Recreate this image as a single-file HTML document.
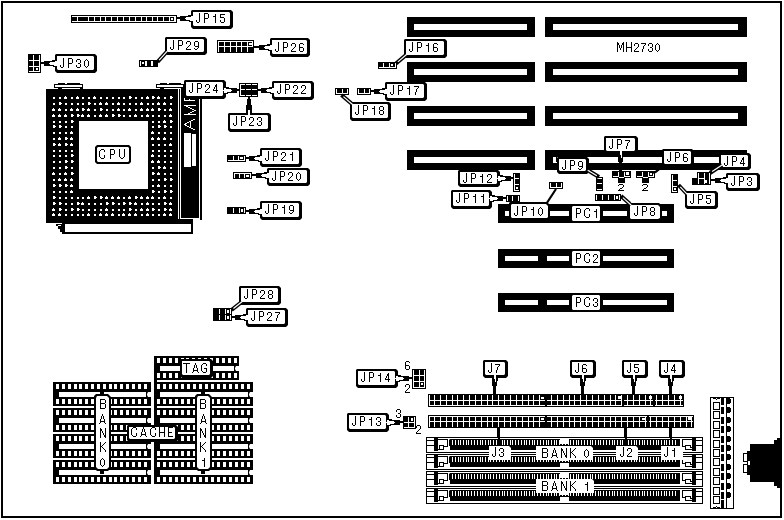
<!DOCTYPE html>
<html><head><meta charset="utf-8"><style>
html,body{margin:0;padding:0;background:#fff;width:784px;height:520px;overflow:hidden}
svg{display:block;will-change:transform}
text{font-family:"Liberation Sans",sans-serif}
</style></head><body>
<svg width="784" height="520" viewBox="0 0 784 520">
<defs><path id="g74" d="M3 0h1v1h-1zM3 1h1v1h-1zM3 2h1v1h-1zM3 3h1v1h-1zM3 4h1v1h-1zM3 5h1v1h-1zM3 6h1v1h-1zM0 7h1v1h-1zM3 7h1v1h-1zM0 8h1v1h-1zM3 8h1v1h-1zM1 9h2v1h-2z"/><path id="g80" d="M0 0h4v1h-4zM0 1h1v1h-1zM4 1h1v1h-1zM0 2h1v1h-1zM4 2h1v1h-1zM0 3h1v1h-1zM4 3h1v1h-1zM0 4h1v1h-1zM4 4h1v1h-1zM0 5h4v1h-4zM0 6h1v1h-1zM0 7h1v1h-1zM0 8h1v1h-1zM0 9h1v1h-1z"/><path id="g67" d="M2 0h3v1h-3zM1 1h1v1h-1zM5 1h1v1h-1zM0 2h1v1h-1zM5 2h1v1h-1zM0 3h1v1h-1zM0 4h1v1h-1zM0 5h1v1h-1zM0 6h1v1h-1zM5 6h1v1h-1zM0 7h1v1h-1zM5 7h1v1h-1zM1 8h1v1h-1zM5 8h1v1h-1zM2 9h3v1h-3z"/><path id="g85" d="M0 0h1v1h-1zM5 0h1v1h-1zM0 1h1v1h-1zM5 1h1v1h-1zM0 2h1v1h-1zM5 2h1v1h-1zM0 3h1v1h-1zM5 3h1v1h-1zM0 4h1v1h-1zM5 4h1v1h-1zM0 5h1v1h-1zM5 5h1v1h-1zM0 6h1v1h-1zM5 6h1v1h-1zM0 7h1v1h-1zM5 7h1v1h-1zM1 8h1v1h-1zM4 8h1v1h-1zM2 9h2v1h-2z"/><path id="g65" d="M3 0h1v1h-1zM3 1h1v1h-1zM2 2h1v1h-1zM4 2h1v1h-1zM2 3h1v1h-1zM4 3h1v1h-1zM2 4h1v1h-1zM4 4h1v1h-1zM1 5h1v1h-1zM5 5h1v1h-1zM1 6h1v1h-1zM5 6h1v1h-1zM1 7h5v1h-5zM1 8h1v1h-1zM5 8h1v1h-1zM0 9h1v1h-1zM6 9h1v1h-1z"/><path id="g77" d="M0 0h1v1h-1zM6 0h1v1h-1zM0 1h2v1h-2zM5 1h2v1h-2zM0 2h2v1h-2zM5 2h2v1h-2zM0 3h1v1h-1zM2 3h1v1h-1zM4 3h1v1h-1zM6 3h1v1h-1zM0 4h1v1h-1zM2 4h1v1h-1zM4 4h1v1h-1zM6 4h1v1h-1zM0 5h1v1h-1zM2 5h1v1h-1zM4 5h1v1h-1zM6 5h1v1h-1zM0 6h1v1h-1zM3 6h1v1h-1zM6 6h1v1h-1zM0 7h1v1h-1zM3 7h1v1h-1zM6 7h1v1h-1zM0 8h1v1h-1zM6 8h1v1h-1zM0 9h1v1h-1zM6 9h1v1h-1z"/><path id="g73" d="M0 0h1v1h-1zM0 1h1v1h-1zM0 2h1v1h-1zM0 3h1v1h-1zM0 4h1v1h-1zM0 5h1v1h-1zM0 6h1v1h-1zM0 7h1v1h-1zM0 8h1v1h-1zM0 9h1v1h-1z"/><path id="g72" d="M0 0h1v1h-1zM5 0h1v1h-1zM0 1h1v1h-1zM5 1h1v1h-1zM0 2h1v1h-1zM5 2h1v1h-1zM0 3h1v1h-1zM5 3h1v1h-1zM0 4h1v1h-1zM5 4h1v1h-1zM0 5h6v1h-6zM0 6h1v1h-1zM5 6h1v1h-1zM0 7h1v1h-1zM5 7h1v1h-1zM0 8h1v1h-1zM5 8h1v1h-1zM0 9h1v1h-1zM5 9h1v1h-1z"/><path id="g69" d="M0 0h5v1h-5zM0 1h1v1h-1zM0 2h1v1h-1zM0 3h1v1h-1zM0 4h1v1h-1zM0 5h4v1h-4zM0 6h1v1h-1zM0 7h1v1h-1zM0 8h1v1h-1zM0 9h5v1h-5z"/><path id="g66" d="M0 0h5v1h-5zM0 1h1v1h-1zM5 1h1v1h-1zM0 2h1v1h-1zM5 2h1v1h-1zM0 3h1v1h-1zM5 3h1v1h-1zM0 4h5v1h-5zM0 5h1v1h-1zM5 5h1v1h-1zM0 6h1v1h-1zM5 6h1v1h-1zM0 7h1v1h-1zM5 7h1v1h-1zM0 8h1v1h-1zM5 8h1v1h-1zM0 9h5v1h-5z"/><path id="g78" d="M0 0h1v1h-1zM5 0h1v1h-1zM0 1h2v1h-2zM5 1h1v1h-1zM0 2h2v1h-2zM5 2h1v1h-1zM0 3h1v1h-1zM2 3h1v1h-1zM5 3h1v1h-1zM0 4h1v1h-1zM2 4h1v1h-1zM5 4h1v1h-1zM0 5h1v1h-1zM3 5h1v1h-1zM5 5h1v1h-1zM0 6h1v1h-1zM3 6h1v1h-1zM5 6h1v1h-1zM0 7h1v1h-1zM4 7h2v1h-2zM0 8h1v1h-1zM4 8h2v1h-2zM0 9h1v1h-1zM5 9h1v1h-1z"/><path id="g75" d="M0 0h1v1h-1zM5 0h1v1h-1zM0 1h1v1h-1zM4 1h1v1h-1zM0 2h1v1h-1zM3 2h1v1h-1zM0 3h1v1h-1zM2 3h1v1h-1zM0 4h2v1h-2zM0 5h1v1h-1zM2 5h1v1h-1zM0 6h1v1h-1zM3 6h1v1h-1zM0 7h1v1h-1zM4 7h1v1h-1zM0 8h1v1h-1zM5 8h1v1h-1zM0 9h1v1h-1zM5 9h1v1h-1z"/><path id="g84" d="M0 0h7v1h-7zM3 1h1v1h-1zM3 2h1v1h-1zM3 3h1v1h-1zM3 4h1v1h-1zM3 5h1v1h-1zM3 6h1v1h-1zM3 7h1v1h-1zM3 8h1v1h-1zM3 9h1v1h-1z"/><path id="g71" d="M2 0h3v1h-3zM1 1h1v1h-1zM5 1h1v1h-1zM0 2h1v1h-1zM5 2h1v1h-1zM0 3h1v1h-1zM0 4h1v1h-1zM0 5h1v1h-1zM3 5h3v1h-3zM0 6h1v1h-1zM5 6h1v1h-1zM0 7h1v1h-1zM5 7h1v1h-1zM1 8h1v1h-1zM5 8h1v1h-1zM2 9h3v1h-3z"/><path id="g48" d="M2 1h1v1h-1zM1 2h1v1h-1zM3 2h1v1h-1zM0 3h1v1h-1zM4 3h1v1h-1zM0 4h1v1h-1zM4 4h1v1h-1zM0 5h1v1h-1zM4 5h1v1h-1zM0 6h1v1h-1zM4 6h1v1h-1zM0 7h1v1h-1zM4 7h1v1h-1zM1 8h1v1h-1zM3 8h1v1h-1zM2 9h1v1h-1z"/><path id="g49" d="M3 1h1v1h-1zM3 2h1v1h-1zM1 3h3v1h-3zM3 4h1v1h-1zM3 5h1v1h-1zM3 6h1v1h-1zM3 7h1v1h-1zM3 8h1v1h-1zM3 9h1v1h-1z"/><path id="g50" d="M1 1h3v1h-3zM0 2h1v1h-1zM4 2h1v1h-1zM0 3h1v1h-1zM4 3h1v1h-1zM4 4h1v1h-1zM3 5h1v1h-1zM2 6h1v1h-1zM1 7h1v1h-1zM0 8h1v1h-1zM0 9h5v1h-5z"/><path id="g51" d="M1 1h3v1h-3zM0 2h1v1h-1zM4 2h1v1h-1zM0 3h1v1h-1zM4 3h1v1h-1zM4 4h1v1h-1zM2 5h2v1h-2zM4 6h1v1h-1zM0 7h1v1h-1zM4 7h1v1h-1zM0 8h1v1h-1zM4 8h1v1h-1zM1 9h3v1h-3z"/><path id="g52" d="M3 1h1v1h-1zM2 2h2v1h-2zM2 3h2v1h-2zM1 4h1v1h-1zM3 4h1v1h-1zM1 5h1v1h-1zM3 5h1v1h-1zM0 6h1v1h-1zM3 6h1v1h-1zM0 7h5v1h-5zM3 8h1v1h-1zM3 9h1v1h-1z"/><path id="g53" d="M0 1h5v1h-5zM0 2h1v1h-1zM0 3h1v1h-1zM0 4h4v1h-4zM4 5h1v1h-1zM4 6h1v1h-1zM0 7h1v1h-1zM4 7h1v1h-1zM0 8h1v1h-1zM4 8h1v1h-1zM1 9h3v1h-3z"/><path id="g54" d="M1 1h3v1h-3zM0 2h1v1h-1zM4 2h1v1h-1zM0 3h1v1h-1zM0 4h1v1h-1zM0 5h4v1h-4zM0 6h1v1h-1zM4 6h1v1h-1zM0 7h1v1h-1zM4 7h1v1h-1zM0 8h1v1h-1zM4 8h1v1h-1zM1 9h3v1h-3z"/><path id="g55" d="M0 1h5v1h-5zM4 2h1v1h-1zM3 3h1v1h-1zM2 4h1v1h-1zM2 5h1v1h-1zM2 6h1v1h-1zM1 7h1v1h-1zM1 8h1v1h-1zM1 9h1v1h-1z"/><path id="g56" d="M1 1h3v1h-3zM0 2h1v1h-1zM4 2h1v1h-1zM0 3h1v1h-1zM4 3h1v1h-1zM0 4h1v1h-1zM4 4h1v1h-1zM1 5h3v1h-3zM0 6h1v1h-1zM4 6h1v1h-1zM0 7h1v1h-1zM4 7h1v1h-1zM0 8h1v1h-1zM4 8h1v1h-1zM1 9h3v1h-3z"/><path id="g178" d="M1 3h4v1h-4zM0 4h1v1h-1zM5 4h1v1h-1zM5 5h1v1h-1zM4 6h1v1h-1zM2 7h2v1h-2zM1 8h1v1h-1zM0 9h6v1h-6z"/><path id="g57" d="M1 1h3v1h-3zM0 2h1v1h-1zM4 2h1v1h-1zM0 3h1v1h-1zM4 3h1v1h-1zM0 4h1v1h-1zM4 4h1v1h-1zM0 5h1v1h-1zM4 5h1v1h-1zM1 6h4v1h-4zM4 7h1v1h-1zM0 8h1v1h-1zM3 8h1v1h-1zM1 9h2v1h-2z"/></defs>
<rect x="0" y="0" width="784" height="520" fill="#fff"/>
<rect x="1" y="1" width="781" height="2" fill="#000"/>
<rect x="1" y="516" width="781" height="2" fill="#000"/>
<rect x="1" y="1" width="2" height="517" fill="#000"/>
<rect x="780" y="1" width="2" height="517" fill="#000"/>
<rect x="71" y="15" width="106" height="8" fill="#000"/>
<rect x="72" y="16" width="104" height="1" fill="#fff"/>
<rect x="72" y="21" width="104" height="1" fill="#fff"/>
<rect x="174" y="16" width="2" height="6" fill="#fff"/>
<rect x="77" y="16" width="1" height="6" fill="#fff"/>
<rect x="88" y="16" width="1" height="6" fill="#fff"/>
<rect x="94" y="16" width="1" height="6" fill="#fff"/>
<rect x="100" y="16" width="1" height="6" fill="#fff"/>
<rect x="105" y="16" width="1" height="6" fill="#fff"/>
<rect x="111" y="16" width="1" height="6" fill="#fff"/>
<rect x="117" y="16" width="1" height="6" fill="#fff"/>
<rect x="123" y="16" width="1" height="6" fill="#fff"/>
<rect x="129" y="16" width="1" height="6" fill="#fff"/>
<rect x="135" y="16" width="1" height="6" fill="#fff"/>
<rect x="141" y="16" width="1" height="6" fill="#fff"/>
<rect x="146" y="16" width="1" height="6" fill="#fff"/>
<rect x="152" y="16" width="1" height="6" fill="#fff"/>
<rect x="157" y="16" width="1" height="6" fill="#fff"/>
<rect x="163" y="16" width="1" height="6" fill="#fff"/>
<rect x="169" y="16" width="1" height="6" fill="#fff"/>
<rect x="171" y="18" width="2" height="2" fill="#fff"/>
<polygon points="192,10 231,10 233,12 233,27 231,29 193,29 191,27 191,11" fill="#000"/>
<polygon points="193,12 229,12 230,13 230,25 229,26 194,26 193,25 193,13" fill="#fff"/>
<use href="#g74" x="196" y="13" fill="#000"/>
<use href="#g80" x="204" y="13" fill="#000"/>
<use href="#g49" x="212" y="13" fill="#000"/>
<use href="#g53" x="220" y="13" fill="#000"/>
<rect x="28" y="54" width="13" height="19" fill="#000"/>
<rect x="33" y="55" width="1" height="17" fill="#fff"/>
<rect x="39" y="55" width="1" height="17" fill="#fff"/>
<rect x="29" y="60" width="11" height="1" fill="#fff"/>
<rect x="29" y="66" width="11" height="1" fill="#fff"/>
<rect x="29" y="71" width="11" height="1" fill="#fff"/>
<rect x="36" y="68" width="2" height="2" fill="#fff"/>
<polygon points="56,54 95,54 97,56 97,71 95,73 57,73 55,71 55,55" fill="#000"/>
<polygon points="57,56 93,56 94,57 94,69 93,70 58,70 57,69 57,57" fill="#fff"/>
<use href="#g74" x="60" y="58" fill="#000"/>
<use href="#g80" x="68" y="58" fill="#000"/>
<use href="#g51" x="76" y="58" fill="#000"/>
<use href="#g48" x="84" y="58" fill="#000"/>
<rect x="139" y="60" width="19" height="7" fill="#000"/>
<rect x="140" y="61" width="1" height="5" fill="#fff"/>
<rect x="142" y="62" width="2" height="2" fill="#fff"/>
<rect x="145" y="61" width="2" height="5" fill="#fff"/>
<rect x="151" y="61" width="2" height="5" fill="#fff"/>
<polygon points="166,37 205,37 207,39 207,53 205,55 167,55 165,53 165,38" fill="#000"/>
<polygon points="167,39 203,39 204,40 204,51 203,52 168,52 167,51 167,40" fill="#fff"/>
<use href="#g74" x="170" y="40" fill="#000"/>
<use href="#g80" x="178" y="40" fill="#000"/>
<use href="#g50" x="186" y="40" fill="#000"/>
<use href="#g57" x="194" y="40" fill="#000"/>
<rect x="217" y="40" width="37" height="13" fill="#000"/>
<rect x="218" y="41" width="35" height="1" fill="#fff"/>
<rect x="218" y="46" width="35" height="1" fill="#fff"/>
<rect x="218" y="41" width="1" height="11" fill="#fff"/>
<rect x="224" y="41" width="1" height="11" fill="#fff"/>
<rect x="230" y="41" width="1" height="11" fill="#fff"/>
<rect x="236" y="41" width="1" height="11" fill="#fff"/>
<rect x="241" y="41" width="1" height="11" fill="#fff"/>
<rect x="247" y="41" width="1" height="11" fill="#fff"/>
<rect x="252" y="41" width="1" height="6" fill="#fff"/>
<rect x="249" y="43" width="3" height="2" fill="#fff"/>
<polygon points="271,38 308,38 310,40 310,55 308,57 272,57 270,55 270,39" fill="#000"/>
<polygon points="272,40 306,40 307,41 307,53 306,54 273,54 272,53 272,41" fill="#fff"/>
<use href="#g74" x="275" y="42" fill="#000"/>
<use href="#g80" x="283" y="42" fill="#000"/>
<use href="#g50" x="291" y="42" fill="#000"/>
<use href="#g54" x="299" y="42" fill="#000"/>
<rect x="58" y="83" width="22" height="1" fill="#000"/>
<rect x="54" y="84" width="29" height="4" fill="#000"/>
<rect x="55" y="85" width="27" height="2" fill="#fff"/>
<rect x="65" y="83" width="2" height="1" fill="#fff"/>
<rect x="58" y="88" width="4" height="1" fill="#000"/>
<rect x="80" y="88" width="3" height="1" fill="#000"/>
<rect x="160" y="83" width="21" height="1" fill="#000"/>
<rect x="156" y="84" width="28" height="4" fill="#000"/>
<rect x="157" y="85" width="26" height="2" fill="#fff"/>
<rect x="167" y="83" width="2" height="1" fill="#fff"/>
<rect x="160" y="88" width="4" height="1" fill="#000"/>
<rect x="181" y="88" width="3" height="1" fill="#000"/>
<rect x="46" y="89" width="132" height="134" fill="#000"/>
<rect x="179" y="89" width="1" height="130" fill="#000"/>
<rect x="181" y="89" width="18" height="129" fill="#000"/>
<rect x="200" y="99" width="2" height="121" fill="#000"/>
<rect x="184" y="133" width="7" height="34" fill="#fff"/>
<rect x="192" y="134" width="4" height="32" fill="#fff"/>
<rect x="46" y="219" width="147" height="4" fill="#000"/>
<rect x="62" y="223" width="131" height="11" fill="#000"/>
<rect x="65" y="224" width="126" height="8" fill="#fff"/>
<rect x="56" y="224" width="6" height="2" fill="#000"/>
<rect x="58" y="226" width="4" height="3" fill="#000"/>
<rect x="60" y="229" width="2" height="3" fill="#000"/>
<rect x="58" y="225" width="3" height="1" fill="#fff"/>
<rect x="53" y="97" width="2" height="2" fill="#fff"/>
<rect x="59" y="97" width="2" height="2" fill="#fff"/>
<rect x="64" y="97" width="3" height="2" fill="#fff"/>
<rect x="65" y="96" width="1" height="1" fill="#fff"/>
<rect x="71" y="97" width="2" height="2" fill="#fff"/>
<rect x="76" y="97" width="3" height="2" fill="#fff"/>
<rect x="77" y="96" width="1" height="1" fill="#fff"/>
<rect x="82" y="97" width="2" height="2" fill="#fff"/>
<rect x="88" y="97" width="2" height="2" fill="#fff"/>
<rect x="93" y="97" width="3" height="2" fill="#fff"/>
<rect x="94" y="96" width="1" height="1" fill="#fff"/>
<rect x="100" y="97" width="2" height="2" fill="#fff"/>
<rect x="106" y="97" width="2" height="2" fill="#fff"/>
<rect x="112" y="97" width="2" height="2" fill="#fff"/>
<rect x="118" y="97" width="2" height="2" fill="#fff"/>
<rect x="123" y="97" width="2" height="2" fill="#fff"/>
<rect x="129" y="96" width="2" height="3" fill="#fff"/>
<rect x="131" y="97" width="1" height="1" fill="#fff"/>
<rect x="135" y="97" width="2" height="2" fill="#fff"/>
<rect x="141" y="97" width="2" height="2" fill="#fff"/>
<rect x="146" y="97" width="3" height="2" fill="#fff"/>
<rect x="147" y="96" width="1" height="1" fill="#fff"/>
<rect x="152" y="96" width="2" height="3" fill="#fff"/>
<rect x="154" y="97" width="1" height="1" fill="#fff"/>
<rect x="157" y="97" width="3" height="2" fill="#fff"/>
<rect x="158" y="96" width="1" height="1" fill="#fff"/>
<rect x="164" y="97" width="2" height="2" fill="#fff"/>
<rect x="170" y="96" width="2" height="3" fill="#fff"/>
<rect x="172" y="97" width="1" height="1" fill="#fff"/>
<rect x="53" y="103" width="2" height="2" fill="#fff"/>
<rect x="59" y="102" width="2" height="3" fill="#fff"/>
<rect x="61" y="103" width="1" height="1" fill="#fff"/>
<rect x="65" y="103" width="2" height="2" fill="#fff"/>
<rect x="71" y="103" width="2" height="2" fill="#fff"/>
<rect x="77" y="103" width="2" height="2" fill="#fff"/>
<rect x="82" y="103" width="2" height="2" fill="#fff"/>
<rect x="88" y="102" width="2" height="3" fill="#fff"/>
<rect x="90" y="103" width="1" height="1" fill="#fff"/>
<rect x="94" y="103" width="2" height="2" fill="#fff"/>
<rect x="99" y="103" width="3" height="2" fill="#fff"/>
<rect x="100" y="102" width="1" height="1" fill="#fff"/>
<rect x="105" y="103" width="3" height="2" fill="#fff"/>
<rect x="106" y="102" width="1" height="1" fill="#fff"/>
<rect x="112" y="103" width="2" height="2" fill="#fff"/>
<rect x="117" y="103" width="3" height="2" fill="#fff"/>
<rect x="118" y="102" width="1" height="1" fill="#fff"/>
<rect x="123" y="103" width="2" height="2" fill="#fff"/>
<rect x="129" y="103" width="2" height="2" fill="#fff"/>
<rect x="135" y="103" width="2" height="2" fill="#fff"/>
<rect x="140" y="103" width="3" height="2" fill="#fff"/>
<rect x="141" y="102" width="1" height="1" fill="#fff"/>
<rect x="147" y="103" width="2" height="2" fill="#fff"/>
<rect x="152" y="103" width="2" height="2" fill="#fff"/>
<rect x="157" y="103" width="3" height="2" fill="#fff"/>
<rect x="158" y="102" width="1" height="1" fill="#fff"/>
<rect x="163" y="103" width="3" height="2" fill="#fff"/>
<rect x="164" y="102" width="1" height="1" fill="#fff"/>
<rect x="170" y="103" width="2" height="2" fill="#fff"/>
<rect x="52" y="109" width="3" height="2" fill="#fff"/>
<rect x="53" y="108" width="1" height="1" fill="#fff"/>
<rect x="58" y="109" width="3" height="2" fill="#fff"/>
<rect x="59" y="108" width="1" height="1" fill="#fff"/>
<rect x="65" y="109" width="2" height="2" fill="#fff"/>
<rect x="70" y="109" width="3" height="2" fill="#fff"/>
<rect x="71" y="108" width="1" height="1" fill="#fff"/>
<rect x="76" y="109" width="3" height="2" fill="#fff"/>
<rect x="77" y="108" width="1" height="1" fill="#fff"/>
<rect x="82" y="108" width="2" height="3" fill="#fff"/>
<rect x="84" y="109" width="1" height="1" fill="#fff"/>
<rect x="87" y="109" width="3" height="2" fill="#fff"/>
<rect x="88" y="108" width="1" height="1" fill="#fff"/>
<rect x="94" y="109" width="2" height="2" fill="#fff"/>
<rect x="100" y="108" width="2" height="3" fill="#fff"/>
<rect x="102" y="109" width="1" height="1" fill="#fff"/>
<rect x="106" y="109" width="2" height="2" fill="#fff"/>
<rect x="112" y="109" width="2" height="2" fill="#fff"/>
<rect x="117" y="109" width="3" height="2" fill="#fff"/>
<rect x="118" y="108" width="1" height="1" fill="#fff"/>
<rect x="123" y="109" width="2" height="2" fill="#fff"/>
<rect x="128" y="109" width="3" height="2" fill="#fff"/>
<rect x="129" y="108" width="1" height="1" fill="#fff"/>
<rect x="135" y="109" width="2" height="2" fill="#fff"/>
<rect x="140" y="109" width="3" height="2" fill="#fff"/>
<rect x="141" y="108" width="1" height="1" fill="#fff"/>
<rect x="146" y="109" width="3" height="2" fill="#fff"/>
<rect x="147" y="108" width="1" height="1" fill="#fff"/>
<rect x="151" y="109" width="3" height="2" fill="#fff"/>
<rect x="152" y="108" width="1" height="1" fill="#fff"/>
<rect x="158" y="108" width="2" height="3" fill="#fff"/>
<rect x="160" y="109" width="1" height="1" fill="#fff"/>
<rect x="164" y="109" width="2" height="2" fill="#fff"/>
<rect x="169" y="109" width="3" height="2" fill="#fff"/>
<rect x="170" y="108" width="1" height="1" fill="#fff"/>
<rect x="52" y="115" width="3" height="2" fill="#fff"/>
<rect x="53" y="114" width="1" height="1" fill="#fff"/>
<rect x="58" y="115" width="3" height="2" fill="#fff"/>
<rect x="59" y="114" width="1" height="1" fill="#fff"/>
<rect x="64" y="115" width="3" height="2" fill="#fff"/>
<rect x="65" y="114" width="1" height="1" fill="#fff"/>
<rect x="71" y="114" width="2" height="3" fill="#fff"/>
<rect x="73" y="115" width="1" height="1" fill="#fff"/>
<rect x="77" y="114" width="2" height="3" fill="#fff"/>
<rect x="79" y="115" width="1" height="1" fill="#fff"/>
<rect x="81" y="115" width="3" height="2" fill="#fff"/>
<rect x="82" y="114" width="1" height="1" fill="#fff"/>
<rect x="87" y="115" width="3" height="2" fill="#fff"/>
<rect x="88" y="114" width="1" height="1" fill="#fff"/>
<rect x="94" y="115" width="2" height="2" fill="#fff"/>
<rect x="99" y="115" width="3" height="2" fill="#fff"/>
<rect x="100" y="114" width="1" height="1" fill="#fff"/>
<rect x="105" y="115" width="3" height="2" fill="#fff"/>
<rect x="106" y="114" width="1" height="1" fill="#fff"/>
<rect x="112" y="114" width="2" height="3" fill="#fff"/>
<rect x="114" y="115" width="1" height="1" fill="#fff"/>
<rect x="118" y="114" width="2" height="3" fill="#fff"/>
<rect x="120" y="115" width="1" height="1" fill="#fff"/>
<rect x="123" y="115" width="2" height="2" fill="#fff"/>
<rect x="129" y="115" width="2" height="2" fill="#fff"/>
<rect x="134" y="115" width="3" height="2" fill="#fff"/>
<rect x="135" y="114" width="1" height="1" fill="#fff"/>
<rect x="141" y="115" width="2" height="2" fill="#fff"/>
<rect x="146" y="115" width="3" height="2" fill="#fff"/>
<rect x="147" y="114" width="1" height="1" fill="#fff"/>
<rect x="152" y="115" width="2" height="2" fill="#fff"/>
<rect x="158" y="115" width="2" height="2" fill="#fff"/>
<rect x="164" y="115" width="2" height="2" fill="#fff"/>
<rect x="169" y="115" width="3" height="2" fill="#fff"/>
<rect x="170" y="114" width="1" height="1" fill="#fff"/>
<rect x="53" y="121" width="2" height="2" fill="#fff"/>
<rect x="59" y="121" width="2" height="2" fill="#fff"/>
<rect x="65" y="121" width="2" height="2" fill="#fff"/>
<rect x="71" y="120" width="2" height="3" fill="#fff"/>
<rect x="73" y="121" width="1" height="1" fill="#fff"/>
<rect x="152" y="121" width="2" height="2" fill="#fff"/>
<rect x="158" y="121" width="2" height="2" fill="#fff"/>
<rect x="163" y="121" width="3" height="2" fill="#fff"/>
<rect x="164" y="120" width="1" height="1" fill="#fff"/>
<rect x="170" y="120" width="2" height="3" fill="#fff"/>
<rect x="172" y="121" width="1" height="1" fill="#fff"/>
<rect x="53" y="125" width="2" height="3" fill="#fff"/>
<rect x="55" y="126" width="1" height="1" fill="#fff"/>
<rect x="59" y="125" width="2" height="3" fill="#fff"/>
<rect x="61" y="126" width="1" height="1" fill="#fff"/>
<rect x="65" y="126" width="2" height="2" fill="#fff"/>
<rect x="71" y="126" width="2" height="2" fill="#fff"/>
<rect x="152" y="126" width="2" height="2" fill="#fff"/>
<rect x="158" y="125" width="2" height="3" fill="#fff"/>
<rect x="160" y="126" width="1" height="1" fill="#fff"/>
<rect x="164" y="125" width="2" height="3" fill="#fff"/>
<rect x="166" y="126" width="1" height="1" fill="#fff"/>
<rect x="170" y="126" width="2" height="2" fill="#fff"/>
<rect x="53" y="132" width="2" height="2" fill="#fff"/>
<rect x="59" y="132" width="2" height="2" fill="#fff"/>
<rect x="65" y="132" width="2" height="2" fill="#fff"/>
<rect x="70" y="132" width="3" height="2" fill="#fff"/>
<rect x="71" y="131" width="1" height="1" fill="#fff"/>
<rect x="151" y="132" width="3" height="2" fill="#fff"/>
<rect x="152" y="131" width="1" height="1" fill="#fff"/>
<rect x="158" y="132" width="2" height="2" fill="#fff"/>
<rect x="164" y="132" width="2" height="2" fill="#fff"/>
<rect x="170" y="132" width="2" height="2" fill="#fff"/>
<rect x="53" y="138" width="2" height="2" fill="#fff"/>
<rect x="58" y="138" width="3" height="2" fill="#fff"/>
<rect x="59" y="137" width="1" height="1" fill="#fff"/>
<rect x="65" y="137" width="2" height="3" fill="#fff"/>
<rect x="67" y="138" width="1" height="1" fill="#fff"/>
<rect x="70" y="138" width="3" height="2" fill="#fff"/>
<rect x="71" y="137" width="1" height="1" fill="#fff"/>
<rect x="151" y="138" width="3" height="2" fill="#fff"/>
<rect x="152" y="137" width="1" height="1" fill="#fff"/>
<rect x="157" y="138" width="3" height="2" fill="#fff"/>
<rect x="158" y="137" width="1" height="1" fill="#fff"/>
<rect x="163" y="138" width="3" height="2" fill="#fff"/>
<rect x="164" y="137" width="1" height="1" fill="#fff"/>
<rect x="170" y="138" width="2" height="2" fill="#fff"/>
<rect x="53" y="143" width="2" height="3" fill="#fff"/>
<rect x="55" y="144" width="1" height="1" fill="#fff"/>
<rect x="58" y="144" width="3" height="2" fill="#fff"/>
<rect x="59" y="143" width="1" height="1" fill="#fff"/>
<rect x="65" y="143" width="2" height="3" fill="#fff"/>
<rect x="67" y="144" width="1" height="1" fill="#fff"/>
<rect x="70" y="144" width="3" height="2" fill="#fff"/>
<rect x="71" y="143" width="1" height="1" fill="#fff"/>
<rect x="152" y="144" width="2" height="2" fill="#fff"/>
<rect x="158" y="144" width="2" height="2" fill="#fff"/>
<rect x="164" y="144" width="2" height="2" fill="#fff"/>
<rect x="169" y="144" width="3" height="2" fill="#fff"/>
<rect x="170" y="143" width="1" height="1" fill="#fff"/>
<rect x="53" y="150" width="2" height="2" fill="#fff"/>
<rect x="59" y="150" width="2" height="2" fill="#fff"/>
<rect x="65" y="150" width="2" height="2" fill="#fff"/>
<rect x="71" y="150" width="2" height="2" fill="#fff"/>
<rect x="152" y="150" width="2" height="2" fill="#fff"/>
<rect x="158" y="150" width="2" height="2" fill="#fff"/>
<rect x="164" y="150" width="2" height="2" fill="#fff"/>
<rect x="170" y="150" width="2" height="2" fill="#fff"/>
<rect x="53" y="155" width="2" height="2" fill="#fff"/>
<rect x="59" y="155" width="2" height="2" fill="#fff"/>
<rect x="65" y="155" width="2" height="2" fill="#fff"/>
<rect x="71" y="154" width="2" height="3" fill="#fff"/>
<rect x="73" y="155" width="1" height="1" fill="#fff"/>
<rect x="151" y="155" width="3" height="2" fill="#fff"/>
<rect x="152" y="154" width="1" height="1" fill="#fff"/>
<rect x="158" y="155" width="2" height="2" fill="#fff"/>
<rect x="164" y="155" width="2" height="2" fill="#fff"/>
<rect x="170" y="155" width="2" height="2" fill="#fff"/>
<rect x="53" y="161" width="2" height="2" fill="#fff"/>
<rect x="59" y="161" width="2" height="2" fill="#fff"/>
<rect x="65" y="160" width="2" height="3" fill="#fff"/>
<rect x="67" y="161" width="1" height="1" fill="#fff"/>
<rect x="71" y="160" width="2" height="3" fill="#fff"/>
<rect x="73" y="161" width="1" height="1" fill="#fff"/>
<rect x="151" y="161" width="3" height="2" fill="#fff"/>
<rect x="152" y="160" width="1" height="1" fill="#fff"/>
<rect x="157" y="161" width="3" height="2" fill="#fff"/>
<rect x="158" y="160" width="1" height="1" fill="#fff"/>
<rect x="164" y="161" width="2" height="2" fill="#fff"/>
<rect x="170" y="161" width="2" height="2" fill="#fff"/>
<rect x="53" y="167" width="2" height="2" fill="#fff"/>
<rect x="59" y="167" width="2" height="2" fill="#fff"/>
<rect x="65" y="166" width="2" height="3" fill="#fff"/>
<rect x="67" y="167" width="1" height="1" fill="#fff"/>
<rect x="71" y="167" width="2" height="2" fill="#fff"/>
<rect x="152" y="167" width="2" height="2" fill="#fff"/>
<rect x="158" y="166" width="2" height="3" fill="#fff"/>
<rect x="160" y="167" width="1" height="1" fill="#fff"/>
<rect x="163" y="167" width="3" height="2" fill="#fff"/>
<rect x="164" y="166" width="1" height="1" fill="#fff"/>
<rect x="170" y="167" width="2" height="2" fill="#fff"/>
<rect x="52" y="173" width="3" height="2" fill="#fff"/>
<rect x="53" y="172" width="1" height="1" fill="#fff"/>
<rect x="59" y="173" width="2" height="2" fill="#fff"/>
<rect x="64" y="173" width="3" height="2" fill="#fff"/>
<rect x="65" y="172" width="1" height="1" fill="#fff"/>
<rect x="71" y="172" width="2" height="3" fill="#fff"/>
<rect x="73" y="173" width="1" height="1" fill="#fff"/>
<rect x="152" y="172" width="2" height="3" fill="#fff"/>
<rect x="154" y="173" width="1" height="1" fill="#fff"/>
<rect x="157" y="173" width="3" height="2" fill="#fff"/>
<rect x="158" y="172" width="1" height="1" fill="#fff"/>
<rect x="164" y="173" width="2" height="2" fill="#fff"/>
<rect x="170" y="173" width="2" height="2" fill="#fff"/>
<rect x="53" y="179" width="2" height="2" fill="#fff"/>
<rect x="58" y="179" width="3" height="2" fill="#fff"/>
<rect x="59" y="178" width="1" height="1" fill="#fff"/>
<rect x="64" y="179" width="3" height="2" fill="#fff"/>
<rect x="65" y="178" width="1" height="1" fill="#fff"/>
<rect x="70" y="179" width="3" height="2" fill="#fff"/>
<rect x="71" y="178" width="1" height="1" fill="#fff"/>
<rect x="152" y="179" width="2" height="2" fill="#fff"/>
<rect x="158" y="179" width="2" height="2" fill="#fff"/>
<rect x="164" y="178" width="2" height="3" fill="#fff"/>
<rect x="166" y="179" width="1" height="1" fill="#fff"/>
<rect x="170" y="178" width="2" height="3" fill="#fff"/>
<rect x="172" y="179" width="1" height="1" fill="#fff"/>
<rect x="53" y="184" width="2" height="3" fill="#fff"/>
<rect x="55" y="185" width="1" height="1" fill="#fff"/>
<rect x="59" y="184" width="2" height="3" fill="#fff"/>
<rect x="61" y="185" width="1" height="1" fill="#fff"/>
<rect x="65" y="184" width="2" height="3" fill="#fff"/>
<rect x="67" y="185" width="1" height="1" fill="#fff"/>
<rect x="70" y="185" width="3" height="2" fill="#fff"/>
<rect x="71" y="184" width="1" height="1" fill="#fff"/>
<rect x="152" y="185" width="2" height="2" fill="#fff"/>
<rect x="157" y="185" width="3" height="2" fill="#fff"/>
<rect x="158" y="184" width="1" height="1" fill="#fff"/>
<rect x="164" y="185" width="2" height="2" fill="#fff"/>
<rect x="170" y="185" width="2" height="2" fill="#fff"/>
<rect x="53" y="191" width="2" height="2" fill="#fff"/>
<rect x="59" y="191" width="2" height="2" fill="#fff"/>
<rect x="65" y="191" width="2" height="2" fill="#fff"/>
<rect x="70" y="191" width="3" height="2" fill="#fff"/>
<rect x="71" y="190" width="1" height="1" fill="#fff"/>
<rect x="152" y="190" width="2" height="3" fill="#fff"/>
<rect x="154" y="191" width="1" height="1" fill="#fff"/>
<rect x="158" y="191" width="2" height="2" fill="#fff"/>
<rect x="164" y="190" width="2" height="3" fill="#fff"/>
<rect x="166" y="191" width="1" height="1" fill="#fff"/>
<rect x="170" y="190" width="2" height="3" fill="#fff"/>
<rect x="172" y="191" width="1" height="1" fill="#fff"/>
<rect x="53" y="196" width="2" height="3" fill="#fff"/>
<rect x="55" y="197" width="1" height="1" fill="#fff"/>
<rect x="59" y="197" width="2" height="2" fill="#fff"/>
<rect x="65" y="197" width="2" height="2" fill="#fff"/>
<rect x="71" y="197" width="2" height="2" fill="#fff"/>
<rect x="77" y="197" width="2" height="2" fill="#fff"/>
<rect x="82" y="197" width="2" height="2" fill="#fff"/>
<rect x="87" y="197" width="3" height="2" fill="#fff"/>
<rect x="88" y="196" width="1" height="1" fill="#fff"/>
<rect x="94" y="196" width="2" height="3" fill="#fff"/>
<rect x="96" y="197" width="1" height="1" fill="#fff"/>
<rect x="100" y="196" width="2" height="3" fill="#fff"/>
<rect x="102" y="197" width="1" height="1" fill="#fff"/>
<rect x="105" y="197" width="3" height="2" fill="#fff"/>
<rect x="106" y="196" width="1" height="1" fill="#fff"/>
<rect x="111" y="197" width="3" height="2" fill="#fff"/>
<rect x="112" y="196" width="1" height="1" fill="#fff"/>
<rect x="117" y="197" width="3" height="2" fill="#fff"/>
<rect x="118" y="196" width="1" height="1" fill="#fff"/>
<rect x="123" y="197" width="2" height="2" fill="#fff"/>
<rect x="128" y="197" width="3" height="2" fill="#fff"/>
<rect x="129" y="196" width="1" height="1" fill="#fff"/>
<rect x="135" y="196" width="2" height="3" fill="#fff"/>
<rect x="137" y="197" width="1" height="1" fill="#fff"/>
<rect x="140" y="197" width="3" height="2" fill="#fff"/>
<rect x="141" y="196" width="1" height="1" fill="#fff"/>
<rect x="146" y="197" width="3" height="2" fill="#fff"/>
<rect x="147" y="196" width="1" height="1" fill="#fff"/>
<rect x="151" y="197" width="3" height="2" fill="#fff"/>
<rect x="152" y="196" width="1" height="1" fill="#fff"/>
<rect x="158" y="197" width="2" height="2" fill="#fff"/>
<rect x="163" y="197" width="3" height="2" fill="#fff"/>
<rect x="164" y="196" width="1" height="1" fill="#fff"/>
<rect x="170" y="197" width="2" height="2" fill="#fff"/>
<rect x="53" y="202" width="2" height="3" fill="#fff"/>
<rect x="55" y="203" width="1" height="1" fill="#fff"/>
<rect x="59" y="202" width="2" height="3" fill="#fff"/>
<rect x="61" y="203" width="1" height="1" fill="#fff"/>
<rect x="65" y="203" width="2" height="2" fill="#fff"/>
<rect x="71" y="203" width="2" height="2" fill="#fff"/>
<rect x="77" y="202" width="2" height="3" fill="#fff"/>
<rect x="79" y="203" width="1" height="1" fill="#fff"/>
<rect x="81" y="203" width="3" height="2" fill="#fff"/>
<rect x="82" y="202" width="1" height="1" fill="#fff"/>
<rect x="88" y="203" width="2" height="2" fill="#fff"/>
<rect x="94" y="203" width="2" height="2" fill="#fff"/>
<rect x="100" y="203" width="2" height="2" fill="#fff"/>
<rect x="106" y="202" width="2" height="3" fill="#fff"/>
<rect x="108" y="203" width="1" height="1" fill="#fff"/>
<rect x="112" y="202" width="2" height="3" fill="#fff"/>
<rect x="114" y="203" width="1" height="1" fill="#fff"/>
<rect x="118" y="203" width="2" height="2" fill="#fff"/>
<rect x="123" y="202" width="2" height="3" fill="#fff"/>
<rect x="125" y="203" width="1" height="1" fill="#fff"/>
<rect x="129" y="202" width="2" height="3" fill="#fff"/>
<rect x="131" y="203" width="1" height="1" fill="#fff"/>
<rect x="134" y="203" width="3" height="2" fill="#fff"/>
<rect x="135" y="202" width="1" height="1" fill="#fff"/>
<rect x="141" y="203" width="2" height="2" fill="#fff"/>
<rect x="146" y="203" width="3" height="2" fill="#fff"/>
<rect x="147" y="202" width="1" height="1" fill="#fff"/>
<rect x="152" y="203" width="2" height="2" fill="#fff"/>
<rect x="158" y="203" width="2" height="2" fill="#fff"/>
<rect x="164" y="202" width="2" height="3" fill="#fff"/>
<rect x="166" y="203" width="1" height="1" fill="#fff"/>
<rect x="169" y="203" width="3" height="2" fill="#fff"/>
<rect x="170" y="202" width="1" height="1" fill="#fff"/>
<rect x="52" y="209" width="3" height="2" fill="#fff"/>
<rect x="53" y="208" width="1" height="1" fill="#fff"/>
<rect x="59" y="208" width="2" height="3" fill="#fff"/>
<rect x="61" y="209" width="1" height="1" fill="#fff"/>
<rect x="65" y="209" width="2" height="2" fill="#fff"/>
<rect x="71" y="208" width="2" height="3" fill="#fff"/>
<rect x="73" y="209" width="1" height="1" fill="#fff"/>
<rect x="77" y="208" width="2" height="3" fill="#fff"/>
<rect x="79" y="209" width="1" height="1" fill="#fff"/>
<rect x="82" y="209" width="2" height="2" fill="#fff"/>
<rect x="88" y="209" width="2" height="2" fill="#fff"/>
<rect x="94" y="209" width="2" height="2" fill="#fff"/>
<rect x="100" y="209" width="2" height="2" fill="#fff"/>
<rect x="105" y="209" width="3" height="2" fill="#fff"/>
<rect x="106" y="208" width="1" height="1" fill="#fff"/>
<rect x="112" y="209" width="2" height="2" fill="#fff"/>
<rect x="118" y="209" width="2" height="2" fill="#fff"/>
<rect x="123" y="209" width="2" height="2" fill="#fff"/>
<rect x="129" y="208" width="2" height="3" fill="#fff"/>
<rect x="131" y="209" width="1" height="1" fill="#fff"/>
<rect x="135" y="209" width="2" height="2" fill="#fff"/>
<rect x="140" y="209" width="3" height="2" fill="#fff"/>
<rect x="141" y="208" width="1" height="1" fill="#fff"/>
<rect x="146" y="209" width="3" height="2" fill="#fff"/>
<rect x="147" y="208" width="1" height="1" fill="#fff"/>
<rect x="152" y="208" width="2" height="3" fill="#fff"/>
<rect x="154" y="209" width="1" height="1" fill="#fff"/>
<rect x="158" y="209" width="2" height="2" fill="#fff"/>
<rect x="164" y="208" width="2" height="3" fill="#fff"/>
<rect x="166" y="209" width="1" height="1" fill="#fff"/>
<rect x="169" y="209" width="3" height="2" fill="#fff"/>
<rect x="170" y="208" width="1" height="1" fill="#fff"/>
<rect x="52" y="214" width="3" height="2" fill="#fff"/>
<rect x="53" y="213" width="1" height="1" fill="#fff"/>
<rect x="58" y="214" width="3" height="2" fill="#fff"/>
<rect x="59" y="213" width="1" height="1" fill="#fff"/>
<rect x="65" y="214" width="2" height="2" fill="#fff"/>
<rect x="71" y="214" width="2" height="2" fill="#fff"/>
<rect x="77" y="214" width="2" height="2" fill="#fff"/>
<rect x="82" y="214" width="2" height="2" fill="#fff"/>
<rect x="87" y="214" width="3" height="2" fill="#fff"/>
<rect x="88" y="213" width="1" height="1" fill="#fff"/>
<rect x="94" y="214" width="2" height="2" fill="#fff"/>
<rect x="99" y="214" width="3" height="2" fill="#fff"/>
<rect x="100" y="213" width="1" height="1" fill="#fff"/>
<rect x="105" y="214" width="3" height="2" fill="#fff"/>
<rect x="106" y="213" width="1" height="1" fill="#fff"/>
<rect x="111" y="214" width="3" height="2" fill="#fff"/>
<rect x="112" y="213" width="1" height="1" fill="#fff"/>
<rect x="118" y="214" width="2" height="2" fill="#fff"/>
<rect x="122" y="214" width="3" height="2" fill="#fff"/>
<rect x="123" y="213" width="1" height="1" fill="#fff"/>
<rect x="128" y="214" width="3" height="2" fill="#fff"/>
<rect x="129" y="213" width="1" height="1" fill="#fff"/>
<rect x="134" y="214" width="3" height="2" fill="#fff"/>
<rect x="135" y="213" width="1" height="1" fill="#fff"/>
<rect x="141" y="214" width="2" height="2" fill="#fff"/>
<rect x="146" y="214" width="3" height="2" fill="#fff"/>
<rect x="147" y="213" width="1" height="1" fill="#fff"/>
<rect x="152" y="214" width="2" height="2" fill="#fff"/>
<rect x="158" y="214" width="2" height="2" fill="#fff"/>
<rect x="163" y="214" width="3" height="2" fill="#fff"/>
<rect x="164" y="213" width="1" height="1" fill="#fff"/>
<rect x="169" y="214" width="3" height="2" fill="#fff"/>
<rect x="170" y="213" width="1" height="1" fill="#fff"/>
<rect x="79" y="121" width="69" height="68" fill="#fff"/>
<polygon points="97,145 129,145 131,147 131,162 129,164 97,164 95,162 95,147" fill="#000"/>
<polygon points="98,147 128,147 129,148 129,161 128,162 98,162 97,161 97,148" fill="#fff"/>
<use href="#g67" x="99" y="149" fill="#000"/>
<use href="#g80" x="110" y="149" fill="#000"/>
<use href="#g85" x="119" y="149" fill="#000"/>
<rect x="184" y="100" width="11" height="1" fill="#fff"/>
<rect x="184" y="98" width="1" height="2" fill="#fff"/>
<rect x="189" y="99" width="1" height="1" fill="#fff"/>
<rect x="184" y="105" width="12" height="1" fill="#fff"/>
<rect x="184" y="114" width="12" height="1" fill="#fff"/>
<rect x="186" y="106" width="2" height="1" fill="#fff"/>
<rect x="188" y="107" width="2" height="1" fill="#fff"/>
<rect x="190" y="108" width="2" height="1" fill="#fff"/>
<rect x="192" y="109" width="2" height="1" fill="#fff"/>
<rect x="194" y="110" width="2" height="1" fill="#fff"/>
<rect x="192" y="111" width="2" height="1" fill="#fff"/>
<rect x="190" y="112" width="2" height="1" fill="#fff"/>
<rect x="188" y="113" width="2" height="1" fill="#fff"/>
<rect x="184" y="124" width="2" height="1" fill="#fff"/>
<rect x="185" y="123" width="2" height="1" fill="#fff"/>
<rect x="187" y="122" width="2" height="1" fill="#fff"/>
<rect x="189" y="121" width="2" height="1" fill="#fff"/>
<rect x="191" y="120" width="2" height="1" fill="#fff"/>
<rect x="193" y="119" width="2" height="1" fill="#fff"/>
<rect x="185" y="125" width="2" height="1" fill="#fff"/>
<rect x="187" y="126" width="2" height="1" fill="#fff"/>
<rect x="189" y="127" width="2" height="1" fill="#fff"/>
<rect x="191" y="128" width="2" height="1" fill="#fff"/>
<rect x="193" y="129" width="2" height="1" fill="#fff"/>
<rect x="190" y="121" width="1" height="6" fill="#fff"/>
<rect x="239" y="83" width="19" height="14" fill="#000"/>
<rect x="240" y="84" width="1" height="12" fill="#fff"/>
<rect x="240" y="84" width="5" height="1" fill="#fff"/>
<rect x="246" y="84" width="5" height="1" fill="#fff"/>
<rect x="252" y="84" width="5" height="1" fill="#fff"/>
<rect x="240" y="89" width="5" height="1" fill="#fff"/>
<rect x="246" y="89" width="5" height="1" fill="#fff"/>
<rect x="252" y="89" width="5" height="1" fill="#fff"/>
<rect x="240" y="95" width="5" height="1" fill="#fff"/>
<rect x="246" y="95" width="5" height="1" fill="#fff"/>
<rect x="252" y="95" width="5" height="1" fill="#fff"/>
<polygon points="185,80 224,80 226,82 226,97 224,99 186,99 184,97 184,81" fill="#000"/>
<polygon points="186,82 222,82 223,83 223,95 222,96 187,96 186,95 186,83" fill="#fff"/>
<use href="#g74" x="189" y="83" fill="#000"/>
<use href="#g80" x="197" y="83" fill="#000"/>
<use href="#g50" x="205" y="83" fill="#000"/>
<use href="#g52" x="213" y="83" fill="#000"/>
<polygon points="273,81 312,81 314,83 314,98 312,100 274,100 272,98 272,82" fill="#000"/>
<polygon points="274,83 310,83 311,84 311,96 310,97 275,97 274,96 274,84" fill="#fff"/>
<use href="#g74" x="277" y="84" fill="#000"/>
<use href="#g80" x="285" y="84" fill="#000"/>
<use href="#g50" x="293" y="84" fill="#000"/>
<use href="#g50" x="301" y="84" fill="#000"/>
<polygon points="229,113 269,113 271,115 271,130 269,132 230,132 228,130 228,114" fill="#000"/>
<polygon points="230,115 267,115 268,116 268,128 267,129 231,129 230,128 230,116" fill="#fff"/>
<use href="#g74" x="233" y="116" fill="#000"/>
<use href="#g80" x="241" y="116" fill="#000"/>
<use href="#g50" x="249" y="116" fill="#000"/>
<use href="#g51" x="257" y="116" fill="#000"/>
<rect x="227" y="155" width="19" height="7" fill="#000"/>
<rect x="228" y="160" width="17" height="1" fill="#fff"/>
<rect x="233" y="156" width="1" height="5" fill="#fff"/>
<rect x="238" y="156" width="1" height="5" fill="#fff"/>
<rect x="244" y="156" width="1" height="5" fill="#fff"/>
<rect x="240" y="157" width="3" height="2" fill="#fff"/>
<polygon points="261,148 300,148 302,150 302,165 300,167 262,167 260,165 260,149" fill="#000"/>
<polygon points="262,150 298,150 299,151 299,163 298,164 263,164 262,163 262,151" fill="#fff"/>
<use href="#g74" x="265" y="151" fill="#000"/>
<use href="#g80" x="273" y="151" fill="#000"/>
<use href="#g50" x="281" y="151" fill="#000"/>
<use href="#g49" x="289" y="151" fill="#000"/>
<rect x="233" y="172" width="19" height="7" fill="#000"/>
<rect x="234" y="173" width="17" height="1" fill="#fff"/>
<rect x="234" y="173" width="1" height="5" fill="#fff"/>
<rect x="239" y="173" width="1" height="5" fill="#fff"/>
<rect x="244" y="173" width="1" height="5" fill="#fff"/>
<rect x="250" y="173" width="1" height="5" fill="#fff"/>
<rect x="246" y="175" width="3" height="2" fill="#fff"/>
<polygon points="268,168 308,168 310,170 310,184 308,186 269,186 267,184 267,169" fill="#000"/>
<polygon points="269,170 306,170 307,171 307,182 306,183 270,183 269,182 269,171" fill="#fff"/>
<use href="#g74" x="272" y="171" fill="#000"/>
<use href="#g80" x="280" y="171" fill="#000"/>
<use href="#g50" x="288" y="171" fill="#000"/>
<use href="#g48" x="296" y="171" fill="#000"/>
<rect x="227" y="207" width="19" height="7" fill="#000"/>
<rect x="233" y="208" width="1" height="5" fill="#fff"/>
<rect x="239" y="208" width="1" height="5" fill="#fff"/>
<rect x="244" y="208" width="1" height="5" fill="#fff"/>
<rect x="241" y="209" width="2" height="3" fill="#fff"/>
<polygon points="261,201 300,201 302,203 302,218 300,220 262,220 260,218 260,202" fill="#000"/>
<polygon points="262,203 298,203 299,204 299,216 298,217 263,217 262,216 262,204" fill="#fff"/>
<use href="#g74" x="265" y="204" fill="#000"/>
<use href="#g80" x="273" y="204" fill="#000"/>
<use href="#g49" x="281" y="204" fill="#000"/>
<use href="#g57" x="289" y="204" fill="#000"/>
<rect x="378" y="62" width="19" height="7" fill="#000"/>
<rect x="379" y="67" width="17" height="1" fill="#fff"/>
<rect x="383" y="63" width="1" height="5" fill="#fff"/>
<rect x="389" y="63" width="1" height="5" fill="#fff"/>
<rect x="395" y="63" width="1" height="5" fill="#fff"/>
<rect x="391" y="64" width="2" height="2" fill="#fff"/>
<polygon points="405,39 445,39 447,41 447,56 445,58 406,58 404,56 404,40" fill="#000"/>
<polygon points="406,41 443,41 444,42 444,54 443,55 407,55 406,54 406,42" fill="#fff"/>
<use href="#g74" x="409" y="42" fill="#000"/>
<use href="#g80" x="417" y="42" fill="#000"/>
<use href="#g49" x="425" y="42" fill="#000"/>
<use href="#g54" x="433" y="42" fill="#000"/>
<rect x="357" y="88" width="14" height="7" fill="#000"/>
<rect x="358" y="93" width="12" height="1" fill="#fff"/>
<rect x="358" y="89" width="1" height="5" fill="#fff"/>
<rect x="364" y="89" width="1" height="5" fill="#fff"/>
<rect x="369" y="89" width="1" height="5" fill="#fff"/>
<polygon points="386,82 425,82 427,84 427,99 425,101 387,101 385,99 385,83" fill="#000"/>
<polygon points="387,84 423,84 424,85 424,97 423,98 388,98 387,97 387,85" fill="#fff"/>
<use href="#g74" x="390" y="85" fill="#000"/>
<use href="#g80" x="398" y="85" fill="#000"/>
<use href="#g49" x="406" y="85" fill="#000"/>
<use href="#g55" x="414" y="85" fill="#000"/>
<rect x="335" y="88" width="14" height="7" fill="#000"/>
<rect x="336" y="93" width="12" height="1" fill="#fff"/>
<rect x="336" y="89" width="1" height="5" fill="#fff"/>
<rect x="342" y="89" width="1" height="5" fill="#fff"/>
<rect x="347" y="89" width="1" height="5" fill="#fff"/>
<polygon points="351,102 389,102 391,104 391,119 389,121 352,121 350,119 350,103" fill="#000"/>
<polygon points="352,104 387,104 388,105 388,117 387,118 353,118 352,117 352,105" fill="#fff"/>
<use href="#g74" x="355" y="105" fill="#000"/>
<use href="#g80" x="363" y="105" fill="#000"/>
<use href="#g49" x="371" y="105" fill="#000"/>
<use href="#g56" x="379" y="105" fill="#000"/>
<rect x="213" y="308" width="19" height="13" fill="#000"/>
<rect x="219" y="309" width="1" height="5" fill="#fff"/>
<rect x="219" y="315" width="1" height="5" fill="#fff"/>
<rect x="225" y="309" width="1" height="5" fill="#fff"/>
<rect x="225" y="315" width="1" height="5" fill="#fff"/>
<rect x="230" y="309" width="1" height="5" fill="#fff"/>
<rect x="230" y="315" width="1" height="5" fill="#fff"/>
<rect x="227" y="310" width="2" height="3" fill="#fff"/>
<rect x="227" y="316" width="2" height="3" fill="#fff"/>
<polygon points="240,286 279,286 281,288 281,303 279,305 241,305 239,303 239,287" fill="#000"/>
<polygon points="241,288 277,288 278,289 278,301 277,302 242,302 241,301 241,289" fill="#fff"/>
<use href="#g74" x="244" y="289" fill="#000"/>
<use href="#g80" x="252" y="289" fill="#000"/>
<use href="#g50" x="260" y="289" fill="#000"/>
<use href="#g56" x="268" y="289" fill="#000"/>
<polygon points="247,308 286,308 288,310 288,325 286,327 248,327 246,325 246,309" fill="#000"/>
<polygon points="248,310 284,310 285,311 285,323 284,324 249,324 248,323 248,311" fill="#fff"/>
<use href="#g74" x="251" y="311" fill="#000"/>
<use href="#g80" x="259" y="311" fill="#000"/>
<use href="#g50" x="267" y="311" fill="#000"/>
<use href="#g55" x="275" y="311" fill="#000"/>
<rect x="407" y="17" width="128" height="20" fill="#000"/>
<rect x="414" y="24" width="113" height="6" fill="#fff"/>
<rect x="545" y="17" width="202" height="20" fill="#000"/>
<rect x="553" y="24" width="185" height="6" fill="#fff"/>
<rect x="407" y="62" width="128" height="20" fill="#000"/>
<rect x="414" y="69" width="113" height="6" fill="#fff"/>
<rect x="545" y="62" width="202" height="20" fill="#000"/>
<rect x="553" y="69" width="185" height="6" fill="#fff"/>
<rect x="407" y="106" width="128" height="20" fill="#000"/>
<rect x="414" y="113" width="113" height="6" fill="#fff"/>
<rect x="545" y="106" width="202" height="20" fill="#000"/>
<rect x="553" y="113" width="185" height="6" fill="#fff"/>
<rect x="407" y="150" width="128" height="20" fill="#000"/>
<rect x="414" y="157" width="113" height="6" fill="#fff"/>
<rect x="545" y="150" width="202" height="20" fill="#000"/>
<rect x="553" y="157" width="185" height="6" fill="#fff"/>
<use href="#g77" x="617" y="42" fill="#000"/>
<use href="#g72" x="626" y="42" fill="#000"/>
<use href="#g50" x="634" y="42" fill="#000"/>
<use href="#g55" x="641" y="42" fill="#000"/>
<use href="#g51" x="648" y="42" fill="#000"/>
<use href="#g48" x="655" y="42" fill="#000"/>
<rect x="498" y="249" width="176" height="19" fill="#000"/>
<rect x="505" y="256" width="33" height="5" fill="#fff"/>
<rect x="547" y="256" width="22" height="5" fill="#fff"/>
<rect x="603" y="256" width="64" height="5" fill="#fff"/>
<polygon points="573,251 599,251 600,252 600,265 599,266 573,266 572,265 572,252" fill="#fff"/>
<use href="#g80" x="576" y="253" fill="#000"/>
<use href="#g67" x="584" y="253" fill="#000"/>
<use href="#g50" x="593" y="253" fill="#000"/>
<rect x="498" y="293" width="176" height="19" fill="#000"/>
<rect x="505" y="300" width="33" height="5" fill="#fff"/>
<rect x="547" y="300" width="22" height="5" fill="#fff"/>
<rect x="603" y="300" width="64" height="5" fill="#fff"/>
<polygon points="573,295 599,295 600,296 600,309 599,310 573,310 572,309 572,296" fill="#fff"/>
<use href="#g80" x="576" y="297" fill="#000"/>
<use href="#g67" x="584" y="297" fill="#000"/>
<use href="#g51" x="593" y="297" fill="#000"/>
<rect x="498" y="204" width="176" height="19" fill="#000"/>
<rect x="505" y="211" width="4" height="5" fill="#fff"/>
<rect x="550" y="211" width="19" height="5" fill="#fff"/>
<rect x="603" y="211" width="24" height="5" fill="#fff"/>
<rect x="662" y="211" width="5" height="5" fill="#fff"/>
<polygon points="573,206 599,206 600,207 600,220 599,221 573,221 572,220 572,207" fill="#fff"/>
<use href="#g80" x="576" y="208" fill="#000"/>
<use href="#g67" x="584" y="208" fill="#000"/>
<use href="#g49" x="593" y="208" fill="#000"/>
<polygon points="510,202 547,202 549,204 549,219 509,219 509,203" fill="#000"/>
<polygon points="512,204 546,204 548,206 548,217 547,218 512,218 511,217 511,205" fill="#fff"/>
<use href="#g74" x="514" y="206" fill="#000"/>
<use href="#g80" x="522" y="206" fill="#000"/>
<use href="#g49" x="530" y="206" fill="#000"/>
<use href="#g48" x="538" y="206" fill="#000"/>
<polygon points="629,203 659,203 661,205 661,220 628,220 628,204" fill="#000"/>
<polygon points="631,205 658,205 660,207 660,218 658,219 631,219 630,218 630,206" fill="#fff"/>
<use href="#g74" x="634" y="206" fill="#000"/>
<use href="#g80" x="642" y="206" fill="#000"/>
<use href="#g56" x="650" y="206" fill="#000"/>
<rect x="595" y="194" width="26" height="7" fill="#000"/>
<rect x="596" y="195" width="1" height="5" fill="#fff"/>
<rect x="602" y="195" width="1" height="5" fill="#fff"/>
<rect x="608" y="195" width="1" height="5" fill="#fff"/>
<rect x="614" y="195" width="1" height="5" fill="#fff"/>
<rect x="619" y="195" width="1" height="5" fill="#fff"/>
<rect x="616" y="196" width="2" height="3" fill="#fff"/>
<rect x="549" y="182" width="14" height="7" fill="#000"/>
<rect x="550" y="187" width="12" height="1" fill="#fff"/>
<rect x="550" y="183" width="1" height="5" fill="#fff"/>
<rect x="556" y="183" width="1" height="5" fill="#fff"/>
<rect x="561" y="183" width="1" height="5" fill="#fff"/>
<line x1="556" y1="189" x2="546.5" y2="203.5" stroke="#000" stroke-width="2.2"/>
<rect x="506" y="195" width="14" height="7" fill="#000"/>
<rect x="507" y="196" width="1" height="5" fill="#fff"/>
<rect x="512" y="196" width="1" height="5" fill="#fff"/>
<rect x="518" y="196" width="1" height="5" fill="#fff"/>
<polygon points="452,190 490,190 492,192 492,207 490,209 453,209 451,207 451,191" fill="#000"/>
<polygon points="453,192 488,192 489,193 489,205 488,206 454,206 453,205 453,193" fill="#fff"/>
<use href="#g74" x="456" y="193" fill="#000"/>
<use href="#g80" x="464" y="193" fill="#000"/>
<use href="#g49" x="472" y="193" fill="#000"/>
<use href="#g49" x="480" y="193" fill="#000"/>
<rect x="513" y="173" width="7" height="19" fill="#000"/>
<rect x="514" y="174" width="1" height="17" fill="#fff"/>
<rect x="514" y="178" width="5" height="1" fill="#fff"/>
<rect x="514" y="184" width="5" height="1" fill="#fff"/>
<rect x="514" y="190" width="5" height="1" fill="#fff"/>
<rect x="516" y="187" width="2" height="2" fill="#fff"/>
<polygon points="459,170 498,170 500,172 500,185 498,187 460,187 458,185 458,171" fill="#000"/>
<polygon points="460,172 496,172 497,173 497,183 496,184 461,184 460,183 460,173" fill="#fff"/>
<use href="#g74" x="463" y="173" fill="#000"/>
<use href="#g80" x="471" y="173" fill="#000"/>
<use href="#g49" x="479" y="173" fill="#000"/>
<use href="#g50" x="487" y="173" fill="#000"/>
<rect x="596" y="177" width="7" height="14" fill="#000"/>
<rect x="597" y="178" width="5" height="1" fill="#fff"/>
<rect x="597" y="183" width="5" height="1" fill="#fff"/>
<rect x="597" y="189" width="5" height="1" fill="#fff"/>
<polygon points="556,156 557,156 557,162 556,162" fill="#000"/>
<polygon points="558,157 587,157 589,159 589,172 587,174 559,174 557,172 557,158" fill="#000"/>
<polygon points="559,159 585,159 586,160 586,170 585,171 560,171 559,170 559,160" fill="#fff"/>
<use href="#g74" x="562" y="160" fill="#000"/>
<use href="#g80" x="570" y="160" fill="#000"/>
<use href="#g57" x="578" y="160" fill="#000"/>
<rect x="612" y="171" width="19" height="7" fill="#000"/>
<rect x="613" y="176" width="6" height="1" fill="#fff"/>
<rect x="624" y="176" width="6" height="1" fill="#fff"/>
<rect x="618" y="172" width="1" height="5" fill="#fff"/>
<rect x="624" y="172" width="1" height="5" fill="#fff"/>
<rect x="619" y="177" width="5" height="1" fill="#fff"/>
<rect x="626" y="172" width="3" height="3" fill="#fff"/>
<rect x="618" y="178" width="7" height="5" fill="#000"/>
<polygon points="605,136 636,136 638,138 638,152 636,154 606,154 604,152 604,137" fill="#000"/>
<polygon points="606,138 634,138 635,139 635,150 634,151 607,151 606,150 606,139" fill="#fff"/>
<use href="#g74" x="609" y="139" fill="#000"/>
<use href="#g80" x="617" y="139" fill="#000"/>
<use href="#g55" x="625" y="139" fill="#000"/>
<use href="#g178" x="618" y="181" fill="#000"/>
<rect x="636" y="171" width="19" height="7" fill="#000"/>
<rect x="637" y="176" width="6" height="1" fill="#fff"/>
<rect x="648" y="176" width="6" height="1" fill="#fff"/>
<rect x="642" y="172" width="1" height="5" fill="#fff"/>
<rect x="648" y="172" width="1" height="5" fill="#fff"/>
<rect x="643" y="177" width="5" height="1" fill="#fff"/>
<rect x="650" y="173" width="2" height="2" fill="#fff"/>
<rect x="653" y="172" width="1" height="5" fill="#fff"/>
<rect x="642" y="178" width="7" height="5" fill="#000"/>
<polygon points="652,171 655,171 665,163 665,166 656,173 652,174" fill="#000"/>
<polygon points="663,149 692,149 694,151 694,165 692,167 664,167 662,165 662,150" fill="#000"/>
<polygon points="664,151 690,151 691,152 691,163 690,164 665,164 664,163 664,152" fill="#fff"/>
<use href="#g74" x="667" y="152" fill="#000"/>
<use href="#g80" x="675" y="152" fill="#000"/>
<use href="#g54" x="683" y="152" fill="#000"/>
<use href="#g178" x="642" y="181" fill="#000"/>
<rect x="671" y="174" width="7" height="19" fill="#000"/>
<rect x="672" y="175" width="1" height="17" fill="#fff"/>
<rect x="672" y="180" width="5" height="1" fill="#fff"/>
<rect x="672" y="186" width="5" height="1" fill="#fff"/>
<rect x="672" y="191" width="5" height="1" fill="#fff"/>
<rect x="674" y="188" width="2" height="2" fill="#fff"/>
<polygon points="686,191 716,191 718,193 718,207 716,209 687,209 685,207 685,192" fill="#000"/>
<polygon points="687,193 714,193 715,194 715,205 714,206 688,206 687,205 687,194" fill="#fff"/>
<use href="#g74" x="690" y="194" fill="#000"/>
<use href="#g80" x="698" y="194" fill="#000"/>
<use href="#g53" x="706" y="194" fill="#000"/>
<rect x="697" y="172" width="14" height="13" fill="#000"/>
<rect x="692" y="178" width="5" height="7" fill="#000"/>
<rect x="698" y="173" width="1" height="11" fill="#fff"/>
<rect x="704" y="173" width="1" height="11" fill="#fff"/>
<rect x="709" y="173" width="1" height="11" fill="#fff"/>
<rect x="699" y="178" width="5" height="1" fill="#fff"/>
<rect x="705" y="180" width="2" height="3" fill="#fff"/>
<polygon points="720,153 749,153 751,155 751,168 749,170 721,170 719,168 719,154" fill="#000"/>
<polygon points="721,155 747,155 748,156 748,166 747,167 722,167 721,166 721,156" fill="#fff"/>
<use href="#g74" x="724" y="156" fill="#000"/>
<use href="#g80" x="732" y="156" fill="#000"/>
<use href="#g52" x="740" y="156" fill="#000"/>
<polygon points="727,173 758,173 760,175 760,189 758,191 728,191 726,189 726,174" fill="#000"/>
<polygon points="728,175 756,175 757,176 757,187 756,188 729,188 728,187 728,176" fill="#fff"/>
<use href="#g74" x="731" y="176" fill="#000"/>
<use href="#g80" x="739" y="176" fill="#000"/>
<use href="#g51" x="747" y="176" fill="#000"/>
<rect x="154" y="356" width="85" height="24" fill="#000"/>
<rect x="157" y="358" width="3" height="5" fill="#fff"/>
<rect x="157" y="373" width="3" height="5" fill="#fff"/>
<rect x="163" y="358" width="3" height="5" fill="#fff"/>
<rect x="163" y="373" width="3" height="5" fill="#fff"/>
<rect x="169" y="358" width="3" height="5" fill="#fff"/>
<rect x="169" y="373" width="3" height="5" fill="#fff"/>
<rect x="175" y="358" width="3" height="5" fill="#fff"/>
<rect x="175" y="373" width="3" height="5" fill="#fff"/>
<rect x="181" y="358" width="3" height="5" fill="#fff"/>
<rect x="181" y="373" width="3" height="5" fill="#fff"/>
<rect x="186" y="358" width="3" height="5" fill="#fff"/>
<rect x="186" y="373" width="3" height="5" fill="#fff"/>
<rect x="192" y="358" width="3" height="5" fill="#fff"/>
<rect x="192" y="373" width="3" height="5" fill="#fff"/>
<rect x="198" y="358" width="3" height="5" fill="#fff"/>
<rect x="198" y="373" width="3" height="5" fill="#fff"/>
<rect x="204" y="358" width="3" height="5" fill="#fff"/>
<rect x="204" y="373" width="3" height="5" fill="#fff"/>
<rect x="210" y="358" width="3" height="5" fill="#fff"/>
<rect x="210" y="373" width="3" height="5" fill="#fff"/>
<rect x="216" y="358" width="3" height="5" fill="#fff"/>
<rect x="216" y="373" width="3" height="5" fill="#fff"/>
<rect x="222" y="358" width="3" height="5" fill="#fff"/>
<rect x="222" y="373" width="3" height="5" fill="#fff"/>
<rect x="228" y="358" width="3" height="5" fill="#fff"/>
<rect x="228" y="373" width="3" height="5" fill="#fff"/>
<rect x="234" y="358" width="3" height="5" fill="#fff"/>
<rect x="234" y="373" width="3" height="5" fill="#fff"/>
<rect x="160" y="366" width="74" height="5" fill="#fff"/>
<polygon points="236,366 239,366 239,371 236,371 235,369 235,368" fill="#fff"/>
<rect x="53" y="382" width="98" height="24" fill="#000"/>
<rect x="56" y="384" width="3" height="5" fill="#fff"/>
<rect x="56" y="399" width="3" height="5" fill="#fff"/>
<rect x="62" y="384" width="3" height="5" fill="#fff"/>
<rect x="62" y="399" width="3" height="5" fill="#fff"/>
<rect x="68" y="384" width="3" height="5" fill="#fff"/>
<rect x="68" y="399" width="3" height="5" fill="#fff"/>
<rect x="74" y="384" width="3" height="5" fill="#fff"/>
<rect x="74" y="399" width="3" height="5" fill="#fff"/>
<rect x="79" y="384" width="3" height="5" fill="#fff"/>
<rect x="79" y="399" width="3" height="5" fill="#fff"/>
<rect x="85" y="384" width="3" height="5" fill="#fff"/>
<rect x="85" y="399" width="3" height="5" fill="#fff"/>
<rect x="91" y="384" width="3" height="5" fill="#fff"/>
<rect x="91" y="399" width="3" height="5" fill="#fff"/>
<rect x="97" y="384" width="3" height="5" fill="#fff"/>
<rect x="97" y="399" width="3" height="5" fill="#fff"/>
<rect x="103" y="384" width="3" height="5" fill="#fff"/>
<rect x="103" y="399" width="3" height="5" fill="#fff"/>
<rect x="109" y="384" width="3" height="5" fill="#fff"/>
<rect x="109" y="399" width="3" height="5" fill="#fff"/>
<rect x="114" y="384" width="3" height="5" fill="#fff"/>
<rect x="114" y="399" width="3" height="5" fill="#fff"/>
<rect x="120" y="384" width="3" height="5" fill="#fff"/>
<rect x="120" y="399" width="3" height="5" fill="#fff"/>
<rect x="126" y="384" width="3" height="5" fill="#fff"/>
<rect x="126" y="399" width="3" height="5" fill="#fff"/>
<rect x="132" y="384" width="3" height="5" fill="#fff"/>
<rect x="132" y="399" width="3" height="5" fill="#fff"/>
<rect x="138" y="384" width="3" height="5" fill="#fff"/>
<rect x="138" y="399" width="3" height="5" fill="#fff"/>
<rect x="144" y="384" width="3" height="5" fill="#fff"/>
<rect x="144" y="399" width="3" height="5" fill="#fff"/>
<rect x="59" y="392" width="87" height="5" fill="#fff"/>
<polygon points="148,392 151,392 151,397 148,397 147,395 147,394" fill="#fff"/>
<rect x="154" y="382" width="99" height="24" fill="#000"/>
<rect x="157" y="384" width="3" height="5" fill="#fff"/>
<rect x="157" y="399" width="3" height="5" fill="#fff"/>
<rect x="163" y="384" width="3" height="5" fill="#fff"/>
<rect x="163" y="399" width="3" height="5" fill="#fff"/>
<rect x="169" y="384" width="3" height="5" fill="#fff"/>
<rect x="169" y="399" width="3" height="5" fill="#fff"/>
<rect x="175" y="384" width="3" height="5" fill="#fff"/>
<rect x="175" y="399" width="3" height="5" fill="#fff"/>
<rect x="181" y="384" width="3" height="5" fill="#fff"/>
<rect x="181" y="399" width="3" height="5" fill="#fff"/>
<rect x="187" y="384" width="3" height="5" fill="#fff"/>
<rect x="187" y="399" width="3" height="5" fill="#fff"/>
<rect x="193" y="384" width="3" height="5" fill="#fff"/>
<rect x="193" y="399" width="3" height="5" fill="#fff"/>
<rect x="199" y="384" width="3" height="5" fill="#fff"/>
<rect x="199" y="399" width="3" height="5" fill="#fff"/>
<rect x="205" y="384" width="3" height="5" fill="#fff"/>
<rect x="205" y="399" width="3" height="5" fill="#fff"/>
<rect x="211" y="384" width="3" height="5" fill="#fff"/>
<rect x="211" y="399" width="3" height="5" fill="#fff"/>
<rect x="217" y="384" width="3" height="5" fill="#fff"/>
<rect x="217" y="399" width="3" height="5" fill="#fff"/>
<rect x="223" y="384" width="3" height="5" fill="#fff"/>
<rect x="223" y="399" width="3" height="5" fill="#fff"/>
<rect x="229" y="384" width="3" height="5" fill="#fff"/>
<rect x="229" y="399" width="3" height="5" fill="#fff"/>
<rect x="235" y="384" width="3" height="5" fill="#fff"/>
<rect x="235" y="399" width="3" height="5" fill="#fff"/>
<rect x="241" y="384" width="3" height="5" fill="#fff"/>
<rect x="241" y="399" width="3" height="5" fill="#fff"/>
<rect x="247" y="384" width="3" height="5" fill="#fff"/>
<rect x="247" y="399" width="3" height="5" fill="#fff"/>
<rect x="160" y="392" width="88" height="5" fill="#fff"/>
<polygon points="250,392 253,392 253,397 250,397 249,395 249,394" fill="#fff"/>
<rect x="53" y="408" width="98" height="24" fill="#000"/>
<rect x="56" y="410" width="3" height="5" fill="#fff"/>
<rect x="56" y="425" width="3" height="5" fill="#fff"/>
<rect x="62" y="410" width="3" height="5" fill="#fff"/>
<rect x="62" y="425" width="3" height="5" fill="#fff"/>
<rect x="68" y="410" width="3" height="5" fill="#fff"/>
<rect x="68" y="425" width="3" height="5" fill="#fff"/>
<rect x="74" y="410" width="3" height="5" fill="#fff"/>
<rect x="74" y="425" width="3" height="5" fill="#fff"/>
<rect x="79" y="410" width="3" height="5" fill="#fff"/>
<rect x="79" y="425" width="3" height="5" fill="#fff"/>
<rect x="85" y="410" width="3" height="5" fill="#fff"/>
<rect x="85" y="425" width="3" height="5" fill="#fff"/>
<rect x="91" y="410" width="3" height="5" fill="#fff"/>
<rect x="91" y="425" width="3" height="5" fill="#fff"/>
<rect x="97" y="410" width="3" height="5" fill="#fff"/>
<rect x="97" y="425" width="3" height="5" fill="#fff"/>
<rect x="103" y="410" width="3" height="5" fill="#fff"/>
<rect x="103" y="425" width="3" height="5" fill="#fff"/>
<rect x="109" y="410" width="3" height="5" fill="#fff"/>
<rect x="109" y="425" width="3" height="5" fill="#fff"/>
<rect x="114" y="410" width="3" height="5" fill="#fff"/>
<rect x="114" y="425" width="3" height="5" fill="#fff"/>
<rect x="120" y="410" width="3" height="5" fill="#fff"/>
<rect x="120" y="425" width="3" height="5" fill="#fff"/>
<rect x="126" y="410" width="3" height="5" fill="#fff"/>
<rect x="126" y="425" width="3" height="5" fill="#fff"/>
<rect x="132" y="410" width="3" height="5" fill="#fff"/>
<rect x="132" y="425" width="3" height="5" fill="#fff"/>
<rect x="138" y="410" width="3" height="5" fill="#fff"/>
<rect x="138" y="425" width="3" height="5" fill="#fff"/>
<rect x="144" y="410" width="3" height="5" fill="#fff"/>
<rect x="144" y="425" width="3" height="5" fill="#fff"/>
<rect x="59" y="418" width="87" height="5" fill="#fff"/>
<polygon points="148,418 151,418 151,423 148,423 147,421 147,420" fill="#fff"/>
<rect x="154" y="408" width="99" height="24" fill="#000"/>
<rect x="157" y="410" width="3" height="5" fill="#fff"/>
<rect x="157" y="425" width="3" height="5" fill="#fff"/>
<rect x="163" y="410" width="3" height="5" fill="#fff"/>
<rect x="163" y="425" width="3" height="5" fill="#fff"/>
<rect x="169" y="410" width="3" height="5" fill="#fff"/>
<rect x="169" y="425" width="3" height="5" fill="#fff"/>
<rect x="175" y="410" width="3" height="5" fill="#fff"/>
<rect x="175" y="425" width="3" height="5" fill="#fff"/>
<rect x="181" y="410" width="3" height="5" fill="#fff"/>
<rect x="181" y="425" width="3" height="5" fill="#fff"/>
<rect x="187" y="410" width="3" height="5" fill="#fff"/>
<rect x="187" y="425" width="3" height="5" fill="#fff"/>
<rect x="193" y="410" width="3" height="5" fill="#fff"/>
<rect x="193" y="425" width="3" height="5" fill="#fff"/>
<rect x="199" y="410" width="3" height="5" fill="#fff"/>
<rect x="199" y="425" width="3" height="5" fill="#fff"/>
<rect x="205" y="410" width="3" height="5" fill="#fff"/>
<rect x="205" y="425" width="3" height="5" fill="#fff"/>
<rect x="211" y="410" width="3" height="5" fill="#fff"/>
<rect x="211" y="425" width="3" height="5" fill="#fff"/>
<rect x="217" y="410" width="3" height="5" fill="#fff"/>
<rect x="217" y="425" width="3" height="5" fill="#fff"/>
<rect x="223" y="410" width="3" height="5" fill="#fff"/>
<rect x="223" y="425" width="3" height="5" fill="#fff"/>
<rect x="229" y="410" width="3" height="5" fill="#fff"/>
<rect x="229" y="425" width="3" height="5" fill="#fff"/>
<rect x="235" y="410" width="3" height="5" fill="#fff"/>
<rect x="235" y="425" width="3" height="5" fill="#fff"/>
<rect x="241" y="410" width="3" height="5" fill="#fff"/>
<rect x="241" y="425" width="3" height="5" fill="#fff"/>
<rect x="247" y="410" width="3" height="5" fill="#fff"/>
<rect x="247" y="425" width="3" height="5" fill="#fff"/>
<rect x="160" y="418" width="88" height="5" fill="#fff"/>
<polygon points="250,418 253,418 253,423 250,423 249,421 249,420" fill="#fff"/>
<rect x="53" y="434" width="98" height="24" fill="#000"/>
<rect x="56" y="436" width="3" height="5" fill="#fff"/>
<rect x="56" y="451" width="3" height="5" fill="#fff"/>
<rect x="62" y="436" width="3" height="5" fill="#fff"/>
<rect x="62" y="451" width="3" height="5" fill="#fff"/>
<rect x="68" y="436" width="3" height="5" fill="#fff"/>
<rect x="68" y="451" width="3" height="5" fill="#fff"/>
<rect x="74" y="436" width="3" height="5" fill="#fff"/>
<rect x="74" y="451" width="3" height="5" fill="#fff"/>
<rect x="79" y="436" width="3" height="5" fill="#fff"/>
<rect x="79" y="451" width="3" height="5" fill="#fff"/>
<rect x="85" y="436" width="3" height="5" fill="#fff"/>
<rect x="85" y="451" width="3" height="5" fill="#fff"/>
<rect x="91" y="436" width="3" height="5" fill="#fff"/>
<rect x="91" y="451" width="3" height="5" fill="#fff"/>
<rect x="97" y="436" width="3" height="5" fill="#fff"/>
<rect x="97" y="451" width="3" height="5" fill="#fff"/>
<rect x="103" y="436" width="3" height="5" fill="#fff"/>
<rect x="103" y="451" width="3" height="5" fill="#fff"/>
<rect x="109" y="436" width="3" height="5" fill="#fff"/>
<rect x="109" y="451" width="3" height="5" fill="#fff"/>
<rect x="114" y="436" width="3" height="5" fill="#fff"/>
<rect x="114" y="451" width="3" height="5" fill="#fff"/>
<rect x="120" y="436" width="3" height="5" fill="#fff"/>
<rect x="120" y="451" width="3" height="5" fill="#fff"/>
<rect x="126" y="436" width="3" height="5" fill="#fff"/>
<rect x="126" y="451" width="3" height="5" fill="#fff"/>
<rect x="132" y="436" width="3" height="5" fill="#fff"/>
<rect x="132" y="451" width="3" height="5" fill="#fff"/>
<rect x="138" y="436" width="3" height="5" fill="#fff"/>
<rect x="138" y="451" width="3" height="5" fill="#fff"/>
<rect x="144" y="436" width="3" height="5" fill="#fff"/>
<rect x="144" y="451" width="3" height="5" fill="#fff"/>
<rect x="59" y="444" width="87" height="5" fill="#fff"/>
<polygon points="148,444 151,444 151,449 148,449 147,447 147,446" fill="#fff"/>
<rect x="154" y="434" width="99" height="24" fill="#000"/>
<rect x="157" y="436" width="3" height="5" fill="#fff"/>
<rect x="157" y="451" width="3" height="5" fill="#fff"/>
<rect x="163" y="436" width="3" height="5" fill="#fff"/>
<rect x="163" y="451" width="3" height="5" fill="#fff"/>
<rect x="169" y="436" width="3" height="5" fill="#fff"/>
<rect x="169" y="451" width="3" height="5" fill="#fff"/>
<rect x="175" y="436" width="3" height="5" fill="#fff"/>
<rect x="175" y="451" width="3" height="5" fill="#fff"/>
<rect x="181" y="436" width="3" height="5" fill="#fff"/>
<rect x="181" y="451" width="3" height="5" fill="#fff"/>
<rect x="187" y="436" width="3" height="5" fill="#fff"/>
<rect x="187" y="451" width="3" height="5" fill="#fff"/>
<rect x="193" y="436" width="3" height="5" fill="#fff"/>
<rect x="193" y="451" width="3" height="5" fill="#fff"/>
<rect x="199" y="436" width="3" height="5" fill="#fff"/>
<rect x="199" y="451" width="3" height="5" fill="#fff"/>
<rect x="205" y="436" width="3" height="5" fill="#fff"/>
<rect x="205" y="451" width="3" height="5" fill="#fff"/>
<rect x="211" y="436" width="3" height="5" fill="#fff"/>
<rect x="211" y="451" width="3" height="5" fill="#fff"/>
<rect x="217" y="436" width="3" height="5" fill="#fff"/>
<rect x="217" y="451" width="3" height="5" fill="#fff"/>
<rect x="223" y="436" width="3" height="5" fill="#fff"/>
<rect x="223" y="451" width="3" height="5" fill="#fff"/>
<rect x="229" y="436" width="3" height="5" fill="#fff"/>
<rect x="229" y="451" width="3" height="5" fill="#fff"/>
<rect x="235" y="436" width="3" height="5" fill="#fff"/>
<rect x="235" y="451" width="3" height="5" fill="#fff"/>
<rect x="241" y="436" width="3" height="5" fill="#fff"/>
<rect x="241" y="451" width="3" height="5" fill="#fff"/>
<rect x="247" y="436" width="3" height="5" fill="#fff"/>
<rect x="247" y="451" width="3" height="5" fill="#fff"/>
<rect x="160" y="444" width="88" height="5" fill="#fff"/>
<polygon points="250,444 253,444 253,449 250,449 249,447 249,446" fill="#fff"/>
<rect x="53" y="460" width="98" height="24" fill="#000"/>
<rect x="56" y="462" width="3" height="5" fill="#fff"/>
<rect x="56" y="477" width="3" height="5" fill="#fff"/>
<rect x="62" y="462" width="3" height="5" fill="#fff"/>
<rect x="62" y="477" width="3" height="5" fill="#fff"/>
<rect x="68" y="462" width="3" height="5" fill="#fff"/>
<rect x="68" y="477" width="3" height="5" fill="#fff"/>
<rect x="74" y="462" width="3" height="5" fill="#fff"/>
<rect x="74" y="477" width="3" height="5" fill="#fff"/>
<rect x="79" y="462" width="3" height="5" fill="#fff"/>
<rect x="79" y="477" width="3" height="5" fill="#fff"/>
<rect x="85" y="462" width="3" height="5" fill="#fff"/>
<rect x="85" y="477" width="3" height="5" fill="#fff"/>
<rect x="91" y="462" width="3" height="5" fill="#fff"/>
<rect x="91" y="477" width="3" height="5" fill="#fff"/>
<rect x="97" y="462" width="3" height="5" fill="#fff"/>
<rect x="97" y="477" width="3" height="5" fill="#fff"/>
<rect x="103" y="462" width="3" height="5" fill="#fff"/>
<rect x="103" y="477" width="3" height="5" fill="#fff"/>
<rect x="109" y="462" width="3" height="5" fill="#fff"/>
<rect x="109" y="477" width="3" height="5" fill="#fff"/>
<rect x="114" y="462" width="3" height="5" fill="#fff"/>
<rect x="114" y="477" width="3" height="5" fill="#fff"/>
<rect x="120" y="462" width="3" height="5" fill="#fff"/>
<rect x="120" y="477" width="3" height="5" fill="#fff"/>
<rect x="126" y="462" width="3" height="5" fill="#fff"/>
<rect x="126" y="477" width="3" height="5" fill="#fff"/>
<rect x="132" y="462" width="3" height="5" fill="#fff"/>
<rect x="132" y="477" width="3" height="5" fill="#fff"/>
<rect x="138" y="462" width="3" height="5" fill="#fff"/>
<rect x="138" y="477" width="3" height="5" fill="#fff"/>
<rect x="144" y="462" width="3" height="5" fill="#fff"/>
<rect x="144" y="477" width="3" height="5" fill="#fff"/>
<rect x="59" y="470" width="87" height="5" fill="#fff"/>
<polygon points="148,470 151,470 151,475 148,475 147,473 147,472" fill="#fff"/>
<rect x="154" y="460" width="99" height="24" fill="#000"/>
<rect x="157" y="462" width="3" height="5" fill="#fff"/>
<rect x="157" y="477" width="3" height="5" fill="#fff"/>
<rect x="163" y="462" width="3" height="5" fill="#fff"/>
<rect x="163" y="477" width="3" height="5" fill="#fff"/>
<rect x="169" y="462" width="3" height="5" fill="#fff"/>
<rect x="169" y="477" width="3" height="5" fill="#fff"/>
<rect x="175" y="462" width="3" height="5" fill="#fff"/>
<rect x="175" y="477" width="3" height="5" fill="#fff"/>
<rect x="181" y="462" width="3" height="5" fill="#fff"/>
<rect x="181" y="477" width="3" height="5" fill="#fff"/>
<rect x="187" y="462" width="3" height="5" fill="#fff"/>
<rect x="187" y="477" width="3" height="5" fill="#fff"/>
<rect x="193" y="462" width="3" height="5" fill="#fff"/>
<rect x="193" y="477" width="3" height="5" fill="#fff"/>
<rect x="199" y="462" width="3" height="5" fill="#fff"/>
<rect x="199" y="477" width="3" height="5" fill="#fff"/>
<rect x="205" y="462" width="3" height="5" fill="#fff"/>
<rect x="205" y="477" width="3" height="5" fill="#fff"/>
<rect x="211" y="462" width="3" height="5" fill="#fff"/>
<rect x="211" y="477" width="3" height="5" fill="#fff"/>
<rect x="217" y="462" width="3" height="5" fill="#fff"/>
<rect x="217" y="477" width="3" height="5" fill="#fff"/>
<rect x="223" y="462" width="3" height="5" fill="#fff"/>
<rect x="223" y="477" width="3" height="5" fill="#fff"/>
<rect x="229" y="462" width="3" height="5" fill="#fff"/>
<rect x="229" y="477" width="3" height="5" fill="#fff"/>
<rect x="235" y="462" width="3" height="5" fill="#fff"/>
<rect x="235" y="477" width="3" height="5" fill="#fff"/>
<rect x="241" y="462" width="3" height="5" fill="#fff"/>
<rect x="241" y="477" width="3" height="5" fill="#fff"/>
<rect x="247" y="462" width="3" height="5" fill="#fff"/>
<rect x="247" y="477" width="3" height="5" fill="#fff"/>
<rect x="160" y="470" width="88" height="5" fill="#fff"/>
<polygon points="250,470 253,470 253,475 250,475 249,473 249,472" fill="#fff"/>
<rect x="154" y="380" width="3" height="104" fill="#000"/>
<polygon points="181,359 211,359 213,361 213,376 211,378 182,378 180,376 180,360" fill="#000"/>
<polygon points="182,361 209,361 210,362 210,374 209,375 183,375 182,374 182,362" fill="#fff"/>
<use href="#g84" x="183" y="363" fill="#000"/>
<use href="#g65" x="192" y="363" fill="#000"/>
<use href="#g71" x="201" y="363" fill="#000"/>
<polygon points="96,394 108,394 111,397 111,468 108,471 97,471 94,468 94,396" fill="#000"/>
<polygon points="97,396 107,396 109,398 109,467 107,469 98,469 96,467 96,398" fill="#fff"/>
<use href="#g66" x="100" y="399"/>
<use href="#g65" x="99" y="414"/>
<use href="#g78" x="100" y="428"/>
<use href="#g75" x="100" y="442"/>
<use href="#g48" x="100" y="457"/>
<polygon points="197,394 209,394 212,397 212,468 209,471 198,471 195,468 195,396" fill="#000"/>
<polygon points="198,396 208,396 210,398 210,467 208,469 199,469 197,467 197,398" fill="#fff"/>
<use href="#g66" x="200" y="399"/>
<use href="#g65" x="200" y="414"/>
<use href="#g78" x="200" y="428"/>
<use href="#g75" x="200" y="442"/>
<use href="#g49" x="201" y="457"/>
<polygon points="128,425 176,425 178,427 178,440 176,442 129,442 127,440 127,426" fill="#000"/>
<polygon points="129,427 174,427 175,428 175,438 174,439 130,439 129,438 129,428" fill="#fff"/>
<use href="#g67" x="131" y="427" fill="#000"/>
<use href="#g65" x="140" y="427" fill="#000"/>
<use href="#g67" x="150" y="427" fill="#000"/>
<use href="#g72" x="159" y="427" fill="#000"/>
<use href="#g69" x="168" y="427" fill="#000"/>
<rect x="201" y="391" width="4" height="4" fill="#000"/>
<rect x="201" y="470" width="4" height="4" fill="#000"/>
<rect x="100" y="391" width="4" height="4" fill="#000"/>
<rect x="100" y="470" width="4" height="4" fill="#000"/>
<rect x="412" y="369" width="14" height="20" fill="#000"/>
<rect x="413" y="370" width="1" height="17" fill="#fff"/>
<rect x="419" y="370" width="1" height="17" fill="#fff"/>
<rect x="424" y="370" width="1" height="17" fill="#fff"/>
<rect x="413" y="375" width="12" height="1" fill="#fff"/>
<rect x="413" y="381" width="12" height="1" fill="#fff"/>
<rect x="413" y="387" width="12" height="1" fill="#fff"/>
<rect x="421" y="383" width="2" height="2" fill="#fff"/>
<polygon points="357,369 396,369 398,371 398,386 396,388 358,388 356,386 356,370" fill="#000"/>
<polygon points="358,371 394,371 395,372 395,384 394,385 359,385 358,384 358,372" fill="#fff"/>
<use href="#g74" x="361" y="372" fill="#000"/>
<use href="#g80" x="369" y="372" fill="#000"/>
<use href="#g49" x="377" y="372" fill="#000"/>
<use href="#g52" x="385" y="372" fill="#000"/>
<use href="#g54" x="405" y="360" fill="#000"/>
<use href="#g50" x="405" y="383" fill="#000"/>
<rect x="403" y="416" width="13" height="13" fill="#000"/>
<rect x="408" y="417" width="1" height="11" fill="#fff"/>
<rect x="414" y="417" width="1" height="11" fill="#fff"/>
<rect x="404" y="422" width="11" height="1" fill="#fff"/>
<rect x="404" y="427" width="11" height="1" fill="#fff"/>
<rect x="411" y="418" width="2" height="3" fill="#fff"/>
<polygon points="348,413 387,413 389,415 389,430 387,432 349,432 347,430 347,414" fill="#000"/>
<polygon points="349,415 385,415 386,416 386,428 385,429 350,429 349,428 349,416" fill="#fff"/>
<use href="#g74" x="352" y="416" fill="#000"/>
<use href="#g80" x="360" y="416" fill="#000"/>
<use href="#g49" x="368" y="416" fill="#000"/>
<use href="#g51" x="376" y="416" fill="#000"/>
<use href="#g51" x="396" y="408" fill="#000"/>
<use href="#g50" x="416" y="424" fill="#000"/>
<rect x="428" y="394" width="256" height="13" fill="#000"/>
<rect x="429" y="395" width="1" height="11" fill="#fff"/>
<rect x="429" y="405" width="254" height="1" fill="#fff"/>
<rect x="429" y="400" width="254" height="1" fill="#fff"/>
<rect x="434" y="395" width="1" height="11" fill="#fff"/>
<rect x="440" y="395" width="1" height="11" fill="#fff"/>
<rect x="446" y="395" width="1" height="11" fill="#fff"/>
<rect x="452" y="395" width="1" height="11" fill="#fff"/>
<rect x="457" y="395" width="1" height="11" fill="#fff"/>
<rect x="463" y="395" width="1" height="11" fill="#fff"/>
<rect x="469" y="395" width="1" height="11" fill="#fff"/>
<rect x="475" y="395" width="1" height="11" fill="#fff"/>
<rect x="481" y="395" width="1" height="11" fill="#fff"/>
<rect x="487" y="395" width="1" height="11" fill="#fff"/>
<rect x="492" y="395" width="1" height="11" fill="#fff"/>
<rect x="498" y="395" width="1" height="11" fill="#fff"/>
<rect x="504" y="395" width="1" height="11" fill="#fff"/>
<rect x="510" y="395" width="1" height="11" fill="#fff"/>
<rect x="516" y="395" width="1" height="11" fill="#fff"/>
<rect x="522" y="395" width="1" height="11" fill="#fff"/>
<rect x="528" y="395" width="1" height="11" fill="#fff"/>
<rect x="533" y="395" width="1" height="11" fill="#fff"/>
<rect x="539" y="395" width="1" height="11" fill="#fff"/>
<rect x="545" y="395" width="1" height="11" fill="#fff"/>
<rect x="551" y="395" width="1" height="11" fill="#fff"/>
<rect x="557" y="395" width="1" height="11" fill="#fff"/>
<rect x="563" y="395" width="1" height="11" fill="#fff"/>
<rect x="569" y="395" width="1" height="11" fill="#fff"/>
<rect x="574" y="395" width="1" height="11" fill="#fff"/>
<rect x="580" y="395" width="1" height="11" fill="#fff"/>
<rect x="586" y="395" width="1" height="11" fill="#fff"/>
<rect x="592" y="395" width="1" height="11" fill="#fff"/>
<rect x="598" y="395" width="1" height="11" fill="#fff"/>
<rect x="604" y="395" width="1" height="11" fill="#fff"/>
<rect x="610" y="395" width="1" height="11" fill="#fff"/>
<rect x="615" y="395" width="1" height="11" fill="#fff"/>
<rect x="621" y="395" width="1" height="11" fill="#fff"/>
<rect x="627" y="395" width="1" height="11" fill="#fff"/>
<rect x="633" y="395" width="1" height="11" fill="#fff"/>
<rect x="639" y="395" width="1" height="11" fill="#fff"/>
<rect x="645" y="395" width="1" height="11" fill="#fff"/>
<rect x="650" y="395" width="1" height="11" fill="#fff"/>
<rect x="656" y="395" width="1" height="11" fill="#fff"/>
<rect x="662" y="395" width="1" height="11" fill="#fff"/>
<rect x="668" y="395" width="1" height="11" fill="#fff"/>
<rect x="674" y="395" width="1" height="11" fill="#fff"/>
<rect x="680" y="395" width="1" height="11" fill="#fff"/>
<rect x="428" y="415" width="266" height="13" fill="#000"/>
<rect x="429" y="416" width="1" height="11" fill="#fff"/>
<rect x="429" y="416" width="264" height="1" fill="#fff"/>
<rect x="429" y="421" width="264" height="1" fill="#fff"/>
<rect x="434" y="416" width="1" height="11" fill="#fff"/>
<rect x="440" y="416" width="1" height="11" fill="#fff"/>
<rect x="446" y="416" width="1" height="11" fill="#fff"/>
<rect x="452" y="416" width="1" height="11" fill="#fff"/>
<rect x="457" y="416" width="1" height="11" fill="#fff"/>
<rect x="463" y="416" width="1" height="11" fill="#fff"/>
<rect x="469" y="416" width="1" height="11" fill="#fff"/>
<rect x="475" y="416" width="1" height="11" fill="#fff"/>
<rect x="481" y="416" width="1" height="11" fill="#fff"/>
<rect x="487" y="416" width="1" height="11" fill="#fff"/>
<rect x="492" y="416" width="1" height="11" fill="#fff"/>
<rect x="498" y="416" width="1" height="11" fill="#fff"/>
<rect x="504" y="416" width="1" height="11" fill="#fff"/>
<rect x="510" y="416" width="1" height="11" fill="#fff"/>
<rect x="516" y="416" width="1" height="11" fill="#fff"/>
<rect x="522" y="416" width="1" height="11" fill="#fff"/>
<rect x="528" y="416" width="1" height="11" fill="#fff"/>
<rect x="533" y="416" width="1" height="11" fill="#fff"/>
<rect x="539" y="416" width="1" height="11" fill="#fff"/>
<rect x="545" y="416" width="1" height="11" fill="#fff"/>
<rect x="551" y="416" width="1" height="11" fill="#fff"/>
<rect x="557" y="416" width="1" height="11" fill="#fff"/>
<rect x="563" y="416" width="1" height="11" fill="#fff"/>
<rect x="569" y="416" width="1" height="11" fill="#fff"/>
<rect x="574" y="416" width="1" height="11" fill="#fff"/>
<rect x="580" y="416" width="1" height="11" fill="#fff"/>
<rect x="586" y="416" width="1" height="11" fill="#fff"/>
<rect x="592" y="416" width="1" height="11" fill="#fff"/>
<rect x="598" y="416" width="1" height="11" fill="#fff"/>
<rect x="604" y="416" width="1" height="11" fill="#fff"/>
<rect x="610" y="416" width="1" height="11" fill="#fff"/>
<rect x="615" y="416" width="1" height="11" fill="#fff"/>
<rect x="621" y="416" width="1" height="11" fill="#fff"/>
<rect x="627" y="416" width="1" height="11" fill="#fff"/>
<rect x="633" y="416" width="1" height="11" fill="#fff"/>
<rect x="639" y="416" width="1" height="11" fill="#fff"/>
<rect x="645" y="416" width="1" height="11" fill="#fff"/>
<rect x="650" y="416" width="1" height="11" fill="#fff"/>
<rect x="656" y="416" width="1" height="11" fill="#fff"/>
<rect x="662" y="416" width="1" height="11" fill="#fff"/>
<rect x="668" y="416" width="1" height="11" fill="#fff"/>
<rect x="674" y="416" width="1" height="11" fill="#fff"/>
<rect x="680" y="416" width="1" height="11" fill="#fff"/>
<rect x="686" y="416" width="1" height="11" fill="#fff"/>
<rect x="691" y="416" width="1" height="11" fill="#fff"/>
<rect x="545" y="395" width="2" height="11" fill="#000"/>
<rect x="622" y="395" width="2" height="11" fill="#000"/>
<rect x="653" y="395" width="2" height="11" fill="#000"/>
<rect x="545" y="416" width="2" height="11" fill="#000"/>
<rect x="647" y="416" width="2" height="11" fill="#000"/>
<rect x="541" y="397" width="3" height="2" fill="#000"/>
<rect x="541" y="397" width="3" height="2" fill="#fff"/>
<rect x="618" y="396" width="3" height="3" fill="#000"/>
<rect x="618" y="396" width="3" height="3" fill="#fff"/>
<rect x="649" y="396" width="3" height="3" fill="#000"/>
<rect x="649" y="396" width="3" height="3" fill="#fff"/>
<rect x="679" y="396" width="3" height="3" fill="#000"/>
<rect x="679" y="396" width="3" height="3" fill="#fff"/>
<rect x="541" y="418" width="3" height="2" fill="#000"/>
<rect x="541" y="418" width="3" height="2" fill="#fff"/>
<rect x="642" y="418" width="3" height="2" fill="#000"/>
<rect x="642" y="418" width="3" height="2" fill="#fff"/>
<rect x="688" y="417" width="3" height="3" fill="#000"/>
<rect x="688" y="417" width="3" height="3" fill="#fff"/>
<polygon points="484,360 506,360 508,362 508,376 506,378 485,378 483,376 483,361" fill="#000"/>
<polygon points="485,362 504,362 505,363 505,374 504,375 486,375 485,374 485,363" fill="#fff"/>
<use href="#g74" x="488" y="363" fill="#000"/>
<use href="#g55" x="495" y="363" fill="#000"/>
<polygon points="571,360 594,360 596,362 596,376 594,378 572,378 570,376 570,361" fill="#000"/>
<polygon points="572,362 592,362 593,363 593,374 592,375 573,375 572,374 572,363" fill="#fff"/>
<use href="#g74" x="575" y="363" fill="#000"/>
<use href="#g54" x="582" y="363" fill="#000"/>
<polygon points="623,360 646,360 648,362 648,376 646,378 624,378 622,376 622,361" fill="#000"/>
<polygon points="624,362 644,362 645,363 645,374 644,375 625,375 624,374 624,363" fill="#fff"/>
<use href="#g74" x="627" y="363" fill="#000"/>
<use href="#g53" x="634" y="363" fill="#000"/>
<polygon points="660,360 683,360 685,362 685,376 683,378 661,378 659,376 659,361" fill="#000"/>
<polygon points="661,362 681,362 682,363 682,374 681,375 662,375 661,374 661,363" fill="#fff"/>
<use href="#g74" x="664" y="363" fill="#000"/>
<use href="#g52" x="671" y="363" fill="#000"/>
<rect x="426" y="437" width="277" height="16" fill="#000"/>
<rect x="427" y="438" width="275" height="14" fill="#fff"/>
<rect x="427" y="440" width="7" height="1" fill="#000"/>
<rect x="427" y="445" width="7" height="1" fill="#000"/>
<rect x="434" y="438" width="4" height="13" fill="#000"/>
<rect x="438" y="439" width="10" height="1" fill="#000"/>
<rect x="447" y="439" width="1" height="8" fill="#000"/>
<rect x="443" y="446" width="5" height="1" fill="#000"/>
<rect x="443" y="446" width="1" height="4" fill="#000"/>
<rect x="438" y="449" width="6" height="1" fill="#000"/>
<rect x="439" y="445" width="5" height="1" fill="#000"/>
<rect x="439" y="445" width="1" height="5" fill="#000"/>
<rect x="695" y="440" width="7" height="1" fill="#000"/>
<rect x="695" y="445" width="7" height="1" fill="#000"/>
<rect x="692" y="438" width="4" height="13" fill="#000"/>
<rect x="682" y="439" width="10" height="1" fill="#000"/>
<rect x="682" y="439" width="1" height="8" fill="#000"/>
<rect x="682" y="446" width="4" height="1" fill="#000"/>
<rect x="685" y="446" width="1" height="4" fill="#000"/>
<rect x="685" y="449" width="7" height="1" fill="#000"/>
<rect x="685" y="445" width="6" height="1" fill="#000"/>
<rect x="690" y="445" width="1" height="3" fill="#000"/>
<rect x="690" y="447" width="2" height="1" fill="#000"/>
<polygon points="450,439 680,439 680,450 450,450 450,446 449,446 449,440" fill="#000"/>
<rect x="452" y="440" width="1" height="5" fill="#fff"/>
<rect x="455" y="440" width="1" height="5" fill="#fff"/>
<rect x="458" y="440" width="1" height="5" fill="#fff"/>
<rect x="460" y="440" width="1" height="5" fill="#fff"/>
<rect x="463" y="440" width="1" height="5" fill="#fff"/>
<rect x="466" y="440" width="1" height="5" fill="#fff"/>
<rect x="468" y="440" width="1" height="5" fill="#fff"/>
<rect x="471" y="440" width="1" height="5" fill="#fff"/>
<rect x="474" y="440" width="1" height="5" fill="#fff"/>
<rect x="477" y="440" width="1" height="5" fill="#fff"/>
<rect x="480" y="440" width="1" height="5" fill="#fff"/>
<rect x="482" y="440" width="1" height="5" fill="#fff"/>
<rect x="485" y="440" width="1" height="5" fill="#fff"/>
<rect x="488" y="440" width="1" height="5" fill="#fff"/>
<rect x="490" y="440" width="1" height="5" fill="#fff"/>
<rect x="493" y="440" width="1" height="5" fill="#fff"/>
<rect x="496" y="440" width="1" height="5" fill="#fff"/>
<rect x="499" y="440" width="1" height="5" fill="#fff"/>
<rect x="502" y="440" width="1" height="5" fill="#fff"/>
<rect x="504" y="440" width="1" height="5" fill="#fff"/>
<rect x="507" y="440" width="1" height="5" fill="#fff"/>
<rect x="510" y="440" width="1" height="5" fill="#fff"/>
<rect x="512" y="440" width="1" height="5" fill="#fff"/>
<rect x="515" y="440" width="1" height="5" fill="#fff"/>
<rect x="518" y="440" width="1" height="5" fill="#fff"/>
<rect x="521" y="440" width="1" height="5" fill="#fff"/>
<rect x="524" y="440" width="1" height="5" fill="#fff"/>
<rect x="526" y="440" width="1" height="5" fill="#fff"/>
<rect x="529" y="440" width="1" height="5" fill="#fff"/>
<rect x="532" y="440" width="1" height="5" fill="#fff"/>
<rect x="534" y="440" width="1" height="5" fill="#fff"/>
<rect x="537" y="440" width="1" height="5" fill="#fff"/>
<rect x="540" y="440" width="1" height="5" fill="#fff"/>
<rect x="543" y="440" width="1" height="5" fill="#fff"/>
<rect x="546" y="440" width="1" height="5" fill="#fff"/>
<rect x="548" y="440" width="1" height="5" fill="#fff"/>
<rect x="551" y="440" width="1" height="5" fill="#fff"/>
<rect x="554" y="440" width="1" height="5" fill="#fff"/>
<rect x="556" y="440" width="1" height="5" fill="#fff"/>
<rect x="559" y="440" width="1" height="5" fill="#fff"/>
<rect x="562" y="440" width="1" height="5" fill="#fff"/>
<rect x="565" y="440" width="1" height="5" fill="#fff"/>
<rect x="568" y="440" width="1" height="5" fill="#fff"/>
<rect x="570" y="440" width="1" height="5" fill="#fff"/>
<rect x="573" y="440" width="1" height="5" fill="#fff"/>
<rect x="576" y="440" width="1" height="5" fill="#fff"/>
<rect x="578" y="440" width="1" height="5" fill="#fff"/>
<rect x="581" y="440" width="1" height="5" fill="#fff"/>
<rect x="584" y="440" width="1" height="5" fill="#fff"/>
<rect x="587" y="440" width="1" height="5" fill="#fff"/>
<rect x="590" y="440" width="1" height="5" fill="#fff"/>
<rect x="592" y="440" width="1" height="5" fill="#fff"/>
<rect x="595" y="440" width="1" height="5" fill="#fff"/>
<rect x="598" y="440" width="1" height="5" fill="#fff"/>
<rect x="600" y="440" width="1" height="5" fill="#fff"/>
<rect x="603" y="440" width="1" height="5" fill="#fff"/>
<rect x="606" y="440" width="1" height="5" fill="#fff"/>
<rect x="609" y="440" width="1" height="5" fill="#fff"/>
<rect x="612" y="440" width="1" height="5" fill="#fff"/>
<rect x="614" y="440" width="1" height="5" fill="#fff"/>
<rect x="617" y="440" width="1" height="5" fill="#fff"/>
<rect x="620" y="440" width="1" height="5" fill="#fff"/>
<rect x="622" y="440" width="1" height="5" fill="#fff"/>
<rect x="625" y="440" width="1" height="5" fill="#fff"/>
<rect x="628" y="440" width="1" height="5" fill="#fff"/>
<rect x="631" y="440" width="1" height="5" fill="#fff"/>
<rect x="634" y="440" width="1" height="5" fill="#fff"/>
<rect x="636" y="440" width="1" height="5" fill="#fff"/>
<rect x="639" y="440" width="1" height="5" fill="#fff"/>
<rect x="642" y="440" width="1" height="5" fill="#fff"/>
<rect x="644" y="440" width="1" height="5" fill="#fff"/>
<rect x="647" y="440" width="1" height="5" fill="#fff"/>
<rect x="650" y="440" width="1" height="5" fill="#fff"/>
<rect x="653" y="440" width="1" height="5" fill="#fff"/>
<rect x="656" y="440" width="1" height="5" fill="#fff"/>
<rect x="658" y="440" width="1" height="5" fill="#fff"/>
<rect x="661" y="440" width="1" height="5" fill="#fff"/>
<rect x="664" y="440" width="1" height="5" fill="#fff"/>
<rect x="666" y="440" width="1" height="5" fill="#fff"/>
<rect x="669" y="440" width="1" height="5" fill="#fff"/>
<rect x="672" y="440" width="1" height="5" fill="#fff"/>
<rect x="675" y="440" width="1" height="5" fill="#fff"/>
<rect x="560" y="439" width="9" height="5" fill="#fff"/>
<rect x="560" y="446" width="9" height="4" fill="#fff"/>
<rect x="426" y="454" width="277" height="16" fill="#000"/>
<rect x="427" y="455" width="275" height="14" fill="#fff"/>
<rect x="427" y="457" width="7" height="1" fill="#000"/>
<rect x="427" y="462" width="7" height="1" fill="#000"/>
<rect x="434" y="455" width="4" height="13" fill="#000"/>
<rect x="438" y="456" width="10" height="1" fill="#000"/>
<rect x="447" y="456" width="1" height="8" fill="#000"/>
<rect x="443" y="463" width="5" height="1" fill="#000"/>
<rect x="443" y="463" width="1" height="4" fill="#000"/>
<rect x="438" y="466" width="6" height="1" fill="#000"/>
<rect x="439" y="462" width="5" height="1" fill="#000"/>
<rect x="439" y="462" width="1" height="5" fill="#000"/>
<rect x="695" y="457" width="7" height="1" fill="#000"/>
<rect x="695" y="462" width="7" height="1" fill="#000"/>
<rect x="692" y="455" width="4" height="13" fill="#000"/>
<rect x="682" y="456" width="10" height="1" fill="#000"/>
<rect x="682" y="456" width="1" height="8" fill="#000"/>
<rect x="682" y="463" width="4" height="1" fill="#000"/>
<rect x="685" y="463" width="1" height="4" fill="#000"/>
<rect x="685" y="466" width="7" height="1" fill="#000"/>
<rect x="685" y="462" width="6" height="1" fill="#000"/>
<rect x="690" y="462" width="1" height="3" fill="#000"/>
<rect x="690" y="464" width="2" height="1" fill="#000"/>
<polygon points="450,456 680,456 680,467 450,467 450,463 449,463 449,457" fill="#000"/>
<rect x="452" y="457" width="1" height="5" fill="#fff"/>
<rect x="455" y="457" width="1" height="5" fill="#fff"/>
<rect x="458" y="457" width="1" height="5" fill="#fff"/>
<rect x="460" y="457" width="1" height="5" fill="#fff"/>
<rect x="463" y="457" width="1" height="5" fill="#fff"/>
<rect x="466" y="457" width="1" height="5" fill="#fff"/>
<rect x="468" y="457" width="1" height="5" fill="#fff"/>
<rect x="471" y="457" width="1" height="5" fill="#fff"/>
<rect x="474" y="457" width="1" height="5" fill="#fff"/>
<rect x="477" y="457" width="1" height="5" fill="#fff"/>
<rect x="480" y="457" width="1" height="5" fill="#fff"/>
<rect x="482" y="457" width="1" height="5" fill="#fff"/>
<rect x="485" y="457" width="1" height="5" fill="#fff"/>
<rect x="488" y="457" width="1" height="5" fill="#fff"/>
<rect x="490" y="457" width="1" height="5" fill="#fff"/>
<rect x="493" y="457" width="1" height="5" fill="#fff"/>
<rect x="496" y="457" width="1" height="5" fill="#fff"/>
<rect x="499" y="457" width="1" height="5" fill="#fff"/>
<rect x="502" y="457" width="1" height="5" fill="#fff"/>
<rect x="504" y="457" width="1" height="5" fill="#fff"/>
<rect x="507" y="457" width="1" height="5" fill="#fff"/>
<rect x="510" y="457" width="1" height="5" fill="#fff"/>
<rect x="512" y="457" width="1" height="5" fill="#fff"/>
<rect x="515" y="457" width="1" height="5" fill="#fff"/>
<rect x="518" y="457" width="1" height="5" fill="#fff"/>
<rect x="521" y="457" width="1" height="5" fill="#fff"/>
<rect x="524" y="457" width="1" height="5" fill="#fff"/>
<rect x="526" y="457" width="1" height="5" fill="#fff"/>
<rect x="529" y="457" width="1" height="5" fill="#fff"/>
<rect x="532" y="457" width="1" height="5" fill="#fff"/>
<rect x="534" y="457" width="1" height="5" fill="#fff"/>
<rect x="537" y="457" width="1" height="5" fill="#fff"/>
<rect x="540" y="457" width="1" height="5" fill="#fff"/>
<rect x="543" y="457" width="1" height="5" fill="#fff"/>
<rect x="546" y="457" width="1" height="5" fill="#fff"/>
<rect x="548" y="457" width="1" height="5" fill="#fff"/>
<rect x="551" y="457" width="1" height="5" fill="#fff"/>
<rect x="554" y="457" width="1" height="5" fill="#fff"/>
<rect x="556" y="457" width="1" height="5" fill="#fff"/>
<rect x="559" y="457" width="1" height="5" fill="#fff"/>
<rect x="562" y="457" width="1" height="5" fill="#fff"/>
<rect x="565" y="457" width="1" height="5" fill="#fff"/>
<rect x="568" y="457" width="1" height="5" fill="#fff"/>
<rect x="570" y="457" width="1" height="5" fill="#fff"/>
<rect x="573" y="457" width="1" height="5" fill="#fff"/>
<rect x="576" y="457" width="1" height="5" fill="#fff"/>
<rect x="578" y="457" width="1" height="5" fill="#fff"/>
<rect x="581" y="457" width="1" height="5" fill="#fff"/>
<rect x="584" y="457" width="1" height="5" fill="#fff"/>
<rect x="587" y="457" width="1" height="5" fill="#fff"/>
<rect x="590" y="457" width="1" height="5" fill="#fff"/>
<rect x="592" y="457" width="1" height="5" fill="#fff"/>
<rect x="595" y="457" width="1" height="5" fill="#fff"/>
<rect x="598" y="457" width="1" height="5" fill="#fff"/>
<rect x="600" y="457" width="1" height="5" fill="#fff"/>
<rect x="603" y="457" width="1" height="5" fill="#fff"/>
<rect x="606" y="457" width="1" height="5" fill="#fff"/>
<rect x="609" y="457" width="1" height="5" fill="#fff"/>
<rect x="612" y="457" width="1" height="5" fill="#fff"/>
<rect x="614" y="457" width="1" height="5" fill="#fff"/>
<rect x="617" y="457" width="1" height="5" fill="#fff"/>
<rect x="620" y="457" width="1" height="5" fill="#fff"/>
<rect x="622" y="457" width="1" height="5" fill="#fff"/>
<rect x="625" y="457" width="1" height="5" fill="#fff"/>
<rect x="628" y="457" width="1" height="5" fill="#fff"/>
<rect x="631" y="457" width="1" height="5" fill="#fff"/>
<rect x="634" y="457" width="1" height="5" fill="#fff"/>
<rect x="636" y="457" width="1" height="5" fill="#fff"/>
<rect x="639" y="457" width="1" height="5" fill="#fff"/>
<rect x="642" y="457" width="1" height="5" fill="#fff"/>
<rect x="644" y="457" width="1" height="5" fill="#fff"/>
<rect x="647" y="457" width="1" height="5" fill="#fff"/>
<rect x="650" y="457" width="1" height="5" fill="#fff"/>
<rect x="653" y="457" width="1" height="5" fill="#fff"/>
<rect x="656" y="457" width="1" height="5" fill="#fff"/>
<rect x="658" y="457" width="1" height="5" fill="#fff"/>
<rect x="661" y="457" width="1" height="5" fill="#fff"/>
<rect x="664" y="457" width="1" height="5" fill="#fff"/>
<rect x="666" y="457" width="1" height="5" fill="#fff"/>
<rect x="669" y="457" width="1" height="5" fill="#fff"/>
<rect x="672" y="457" width="1" height="5" fill="#fff"/>
<rect x="675" y="457" width="1" height="5" fill="#fff"/>
<rect x="560" y="456" width="9" height="5" fill="#fff"/>
<rect x="560" y="463" width="9" height="4" fill="#fff"/>
<rect x="426" y="471" width="277" height="16" fill="#000"/>
<rect x="427" y="472" width="275" height="14" fill="#fff"/>
<rect x="427" y="474" width="7" height="1" fill="#000"/>
<rect x="427" y="479" width="7" height="1" fill="#000"/>
<rect x="434" y="472" width="4" height="13" fill="#000"/>
<rect x="438" y="473" width="10" height="1" fill="#000"/>
<rect x="447" y="473" width="1" height="8" fill="#000"/>
<rect x="443" y="480" width="5" height="1" fill="#000"/>
<rect x="443" y="480" width="1" height="4" fill="#000"/>
<rect x="438" y="483" width="6" height="1" fill="#000"/>
<rect x="439" y="479" width="5" height="1" fill="#000"/>
<rect x="439" y="479" width="1" height="5" fill="#000"/>
<rect x="695" y="474" width="7" height="1" fill="#000"/>
<rect x="695" y="479" width="7" height="1" fill="#000"/>
<rect x="692" y="472" width="4" height="13" fill="#000"/>
<rect x="682" y="473" width="10" height="1" fill="#000"/>
<rect x="682" y="473" width="1" height="8" fill="#000"/>
<rect x="682" y="480" width="4" height="1" fill="#000"/>
<rect x="685" y="480" width="1" height="4" fill="#000"/>
<rect x="685" y="483" width="7" height="1" fill="#000"/>
<rect x="685" y="479" width="6" height="1" fill="#000"/>
<rect x="690" y="479" width="1" height="3" fill="#000"/>
<rect x="690" y="481" width="2" height="1" fill="#000"/>
<polygon points="450,473 680,473 680,484 450,484 450,480 449,480 449,474" fill="#000"/>
<rect x="452" y="474" width="1" height="5" fill="#fff"/>
<rect x="455" y="474" width="1" height="5" fill="#fff"/>
<rect x="458" y="474" width="1" height="5" fill="#fff"/>
<rect x="460" y="474" width="1" height="5" fill="#fff"/>
<rect x="463" y="474" width="1" height="5" fill="#fff"/>
<rect x="466" y="474" width="1" height="5" fill="#fff"/>
<rect x="468" y="474" width="1" height="5" fill="#fff"/>
<rect x="471" y="474" width="1" height="5" fill="#fff"/>
<rect x="474" y="474" width="1" height="5" fill="#fff"/>
<rect x="477" y="474" width="1" height="5" fill="#fff"/>
<rect x="480" y="474" width="1" height="5" fill="#fff"/>
<rect x="482" y="474" width="1" height="5" fill="#fff"/>
<rect x="485" y="474" width="1" height="5" fill="#fff"/>
<rect x="488" y="474" width="1" height="5" fill="#fff"/>
<rect x="490" y="474" width="1" height="5" fill="#fff"/>
<rect x="493" y="474" width="1" height="5" fill="#fff"/>
<rect x="496" y="474" width="1" height="5" fill="#fff"/>
<rect x="499" y="474" width="1" height="5" fill="#fff"/>
<rect x="502" y="474" width="1" height="5" fill="#fff"/>
<rect x="504" y="474" width="1" height="5" fill="#fff"/>
<rect x="507" y="474" width="1" height="5" fill="#fff"/>
<rect x="510" y="474" width="1" height="5" fill="#fff"/>
<rect x="512" y="474" width="1" height="5" fill="#fff"/>
<rect x="515" y="474" width="1" height="5" fill="#fff"/>
<rect x="518" y="474" width="1" height="5" fill="#fff"/>
<rect x="521" y="474" width="1" height="5" fill="#fff"/>
<rect x="524" y="474" width="1" height="5" fill="#fff"/>
<rect x="526" y="474" width="1" height="5" fill="#fff"/>
<rect x="529" y="474" width="1" height="5" fill="#fff"/>
<rect x="532" y="474" width="1" height="5" fill="#fff"/>
<rect x="534" y="474" width="1" height="5" fill="#fff"/>
<rect x="537" y="474" width="1" height="5" fill="#fff"/>
<rect x="540" y="474" width="1" height="5" fill="#fff"/>
<rect x="543" y="474" width="1" height="5" fill="#fff"/>
<rect x="546" y="474" width="1" height="5" fill="#fff"/>
<rect x="548" y="474" width="1" height="5" fill="#fff"/>
<rect x="551" y="474" width="1" height="5" fill="#fff"/>
<rect x="554" y="474" width="1" height="5" fill="#fff"/>
<rect x="556" y="474" width="1" height="5" fill="#fff"/>
<rect x="559" y="474" width="1" height="5" fill="#fff"/>
<rect x="562" y="474" width="1" height="5" fill="#fff"/>
<rect x="565" y="474" width="1" height="5" fill="#fff"/>
<rect x="568" y="474" width="1" height="5" fill="#fff"/>
<rect x="570" y="474" width="1" height="5" fill="#fff"/>
<rect x="573" y="474" width="1" height="5" fill="#fff"/>
<rect x="576" y="474" width="1" height="5" fill="#fff"/>
<rect x="578" y="474" width="1" height="5" fill="#fff"/>
<rect x="581" y="474" width="1" height="5" fill="#fff"/>
<rect x="584" y="474" width="1" height="5" fill="#fff"/>
<rect x="587" y="474" width="1" height="5" fill="#fff"/>
<rect x="590" y="474" width="1" height="5" fill="#fff"/>
<rect x="592" y="474" width="1" height="5" fill="#fff"/>
<rect x="595" y="474" width="1" height="5" fill="#fff"/>
<rect x="598" y="474" width="1" height="5" fill="#fff"/>
<rect x="600" y="474" width="1" height="5" fill="#fff"/>
<rect x="603" y="474" width="1" height="5" fill="#fff"/>
<rect x="606" y="474" width="1" height="5" fill="#fff"/>
<rect x="609" y="474" width="1" height="5" fill="#fff"/>
<rect x="612" y="474" width="1" height="5" fill="#fff"/>
<rect x="614" y="474" width="1" height="5" fill="#fff"/>
<rect x="617" y="474" width="1" height="5" fill="#fff"/>
<rect x="620" y="474" width="1" height="5" fill="#fff"/>
<rect x="622" y="474" width="1" height="5" fill="#fff"/>
<rect x="625" y="474" width="1" height="5" fill="#fff"/>
<rect x="628" y="474" width="1" height="5" fill="#fff"/>
<rect x="631" y="474" width="1" height="5" fill="#fff"/>
<rect x="634" y="474" width="1" height="5" fill="#fff"/>
<rect x="636" y="474" width="1" height="5" fill="#fff"/>
<rect x="639" y="474" width="1" height="5" fill="#fff"/>
<rect x="642" y="474" width="1" height="5" fill="#fff"/>
<rect x="644" y="474" width="1" height="5" fill="#fff"/>
<rect x="647" y="474" width="1" height="5" fill="#fff"/>
<rect x="650" y="474" width="1" height="5" fill="#fff"/>
<rect x="653" y="474" width="1" height="5" fill="#fff"/>
<rect x="656" y="474" width="1" height="5" fill="#fff"/>
<rect x="658" y="474" width="1" height="5" fill="#fff"/>
<rect x="661" y="474" width="1" height="5" fill="#fff"/>
<rect x="664" y="474" width="1" height="5" fill="#fff"/>
<rect x="666" y="474" width="1" height="5" fill="#fff"/>
<rect x="669" y="474" width="1" height="5" fill="#fff"/>
<rect x="672" y="474" width="1" height="5" fill="#fff"/>
<rect x="675" y="474" width="1" height="5" fill="#fff"/>
<rect x="560" y="473" width="9" height="5" fill="#fff"/>
<rect x="560" y="480" width="9" height="4" fill="#fff"/>
<rect x="426" y="488" width="277" height="16" fill="#000"/>
<rect x="427" y="489" width="275" height="14" fill="#fff"/>
<rect x="427" y="491" width="7" height="1" fill="#000"/>
<rect x="427" y="496" width="7" height="1" fill="#000"/>
<rect x="434" y="489" width="4" height="13" fill="#000"/>
<rect x="438" y="490" width="10" height="1" fill="#000"/>
<rect x="447" y="490" width="1" height="8" fill="#000"/>
<rect x="443" y="497" width="5" height="1" fill="#000"/>
<rect x="443" y="497" width="1" height="4" fill="#000"/>
<rect x="438" y="500" width="6" height="1" fill="#000"/>
<rect x="439" y="496" width="5" height="1" fill="#000"/>
<rect x="439" y="496" width="1" height="5" fill="#000"/>
<rect x="695" y="491" width="7" height="1" fill="#000"/>
<rect x="695" y="496" width="7" height="1" fill="#000"/>
<rect x="692" y="489" width="4" height="13" fill="#000"/>
<rect x="682" y="490" width="10" height="1" fill="#000"/>
<rect x="682" y="490" width="1" height="8" fill="#000"/>
<rect x="682" y="497" width="4" height="1" fill="#000"/>
<rect x="685" y="497" width="1" height="4" fill="#000"/>
<rect x="685" y="500" width="7" height="1" fill="#000"/>
<rect x="685" y="496" width="6" height="1" fill="#000"/>
<rect x="690" y="496" width="1" height="3" fill="#000"/>
<rect x="690" y="498" width="2" height="1" fill="#000"/>
<polygon points="450,490 680,490 680,501 450,501 450,497 449,497 449,491" fill="#000"/>
<rect x="452" y="491" width="1" height="5" fill="#fff"/>
<rect x="455" y="491" width="1" height="5" fill="#fff"/>
<rect x="458" y="491" width="1" height="5" fill="#fff"/>
<rect x="460" y="491" width="1" height="5" fill="#fff"/>
<rect x="463" y="491" width="1" height="5" fill="#fff"/>
<rect x="466" y="491" width="1" height="5" fill="#fff"/>
<rect x="468" y="491" width="1" height="5" fill="#fff"/>
<rect x="471" y="491" width="1" height="5" fill="#fff"/>
<rect x="474" y="491" width="1" height="5" fill="#fff"/>
<rect x="477" y="491" width="1" height="5" fill="#fff"/>
<rect x="480" y="491" width="1" height="5" fill="#fff"/>
<rect x="482" y="491" width="1" height="5" fill="#fff"/>
<rect x="485" y="491" width="1" height="5" fill="#fff"/>
<rect x="488" y="491" width="1" height="5" fill="#fff"/>
<rect x="490" y="491" width="1" height="5" fill="#fff"/>
<rect x="493" y="491" width="1" height="5" fill="#fff"/>
<rect x="496" y="491" width="1" height="5" fill="#fff"/>
<rect x="499" y="491" width="1" height="5" fill="#fff"/>
<rect x="502" y="491" width="1" height="5" fill="#fff"/>
<rect x="504" y="491" width="1" height="5" fill="#fff"/>
<rect x="507" y="491" width="1" height="5" fill="#fff"/>
<rect x="510" y="491" width="1" height="5" fill="#fff"/>
<rect x="512" y="491" width="1" height="5" fill="#fff"/>
<rect x="515" y="491" width="1" height="5" fill="#fff"/>
<rect x="518" y="491" width="1" height="5" fill="#fff"/>
<rect x="521" y="491" width="1" height="5" fill="#fff"/>
<rect x="524" y="491" width="1" height="5" fill="#fff"/>
<rect x="526" y="491" width="1" height="5" fill="#fff"/>
<rect x="529" y="491" width="1" height="5" fill="#fff"/>
<rect x="532" y="491" width="1" height="5" fill="#fff"/>
<rect x="534" y="491" width="1" height="5" fill="#fff"/>
<rect x="537" y="491" width="1" height="5" fill="#fff"/>
<rect x="540" y="491" width="1" height="5" fill="#fff"/>
<rect x="543" y="491" width="1" height="5" fill="#fff"/>
<rect x="546" y="491" width="1" height="5" fill="#fff"/>
<rect x="548" y="491" width="1" height="5" fill="#fff"/>
<rect x="551" y="491" width="1" height="5" fill="#fff"/>
<rect x="554" y="491" width="1" height="5" fill="#fff"/>
<rect x="556" y="491" width="1" height="5" fill="#fff"/>
<rect x="559" y="491" width="1" height="5" fill="#fff"/>
<rect x="562" y="491" width="1" height="5" fill="#fff"/>
<rect x="565" y="491" width="1" height="5" fill="#fff"/>
<rect x="568" y="491" width="1" height="5" fill="#fff"/>
<rect x="570" y="491" width="1" height="5" fill="#fff"/>
<rect x="573" y="491" width="1" height="5" fill="#fff"/>
<rect x="576" y="491" width="1" height="5" fill="#fff"/>
<rect x="578" y="491" width="1" height="5" fill="#fff"/>
<rect x="581" y="491" width="1" height="5" fill="#fff"/>
<rect x="584" y="491" width="1" height="5" fill="#fff"/>
<rect x="587" y="491" width="1" height="5" fill="#fff"/>
<rect x="590" y="491" width="1" height="5" fill="#fff"/>
<rect x="592" y="491" width="1" height="5" fill="#fff"/>
<rect x="595" y="491" width="1" height="5" fill="#fff"/>
<rect x="598" y="491" width="1" height="5" fill="#fff"/>
<rect x="600" y="491" width="1" height="5" fill="#fff"/>
<rect x="603" y="491" width="1" height="5" fill="#fff"/>
<rect x="606" y="491" width="1" height="5" fill="#fff"/>
<rect x="609" y="491" width="1" height="5" fill="#fff"/>
<rect x="612" y="491" width="1" height="5" fill="#fff"/>
<rect x="614" y="491" width="1" height="5" fill="#fff"/>
<rect x="617" y="491" width="1" height="5" fill="#fff"/>
<rect x="620" y="491" width="1" height="5" fill="#fff"/>
<rect x="622" y="491" width="1" height="5" fill="#fff"/>
<rect x="625" y="491" width="1" height="5" fill="#fff"/>
<rect x="628" y="491" width="1" height="5" fill="#fff"/>
<rect x="631" y="491" width="1" height="5" fill="#fff"/>
<rect x="634" y="491" width="1" height="5" fill="#fff"/>
<rect x="636" y="491" width="1" height="5" fill="#fff"/>
<rect x="639" y="491" width="1" height="5" fill="#fff"/>
<rect x="642" y="491" width="1" height="5" fill="#fff"/>
<rect x="644" y="491" width="1" height="5" fill="#fff"/>
<rect x="647" y="491" width="1" height="5" fill="#fff"/>
<rect x="650" y="491" width="1" height="5" fill="#fff"/>
<rect x="653" y="491" width="1" height="5" fill="#fff"/>
<rect x="656" y="491" width="1" height="5" fill="#fff"/>
<rect x="658" y="491" width="1" height="5" fill="#fff"/>
<rect x="661" y="491" width="1" height="5" fill="#fff"/>
<rect x="664" y="491" width="1" height="5" fill="#fff"/>
<rect x="666" y="491" width="1" height="5" fill="#fff"/>
<rect x="669" y="491" width="1" height="5" fill="#fff"/>
<rect x="672" y="491" width="1" height="5" fill="#fff"/>
<rect x="675" y="491" width="1" height="5" fill="#fff"/>
<rect x="560" y="490" width="9" height="5" fill="#fff"/>
<rect x="560" y="497" width="9" height="4" fill="#fff"/>
<rect x="497" y="428" width="3" height="9" fill="#000"/>
<rect x="498" y="437" width="2" height="9" fill="#000"/>
<polygon points="489,446 509,446 511,448 511,460 489,460" fill="#fff"/>
<use href="#g74" x="492" y="447" fill="#000"/>
<use href="#g51" x="499" y="447" fill="#000"/>
<rect x="624" y="428" width="3" height="9" fill="#000"/>
<rect x="625" y="437" width="2" height="9" fill="#000"/>
<polygon points="616,446 636,446 638,448 638,460 616,460" fill="#fff"/>
<use href="#g74" x="620" y="447" fill="#000"/>
<use href="#g50" x="627" y="447" fill="#000"/>
<rect x="669" y="428" width="3" height="9" fill="#000"/>
<rect x="670" y="437" width="2" height="9" fill="#000"/>
<polygon points="661,446 681,446 683,448 683,460 661,460" fill="#fff"/>
<use href="#g74" x="664" y="447" fill="#000"/>
<use href="#g49" x="671" y="447" fill="#000"/>
<polygon points="536,446 591,446 593,448 593,460 536,460" fill="#fff"/>
<use href="#g66" x="542" y="448" fill="#000"/>
<use href="#g65" x="551" y="448" fill="#000"/>
<use href="#g78" x="561" y="448" fill="#000"/>
<use href="#g75" x="570" y="448" fill="#000"/>
<use href="#g48" x="584" y="448" fill="#000"/>
<polygon points="536,479 592,479 594,481 594,493 536,493" fill="#fff"/>
<use href="#g66" x="542" y="481" fill="#000"/>
<use href="#g65" x="551" y="481" fill="#000"/>
<use href="#g78" x="561" y="481" fill="#000"/>
<use href="#g75" x="570" y="481" fill="#000"/>
<use href="#g49" x="584" y="481" fill="#000"/>
<rect x="710" y="397" width="24" height="112" fill="#000"/>
<rect x="711" y="398" width="22" height="110" fill="#fff"/>
<rect x="713" y="398" width="3" height="1" fill="#000"/>
<rect x="717" y="398" width="3" height="1" fill="#000"/>
<rect x="716" y="399" width="1" height="1" fill="#000"/>
<rect x="713" y="402" width="7" height="8" fill="#000"/>
<rect x="714" y="403" width="5" height="6" fill="#fff"/>
<rect x="721" y="398" width="3" height="7" fill="#000"/>
<polygon points="727,398 730,398 730,399 731,399 731,403 730,403 730,404 727,404" fill="#000"/>
<rect x="713" y="411" width="7" height="8" fill="#000"/>
<rect x="714" y="412" width="5" height="6" fill="#fff"/>
<rect x="721" y="407" width="3" height="7" fill="#000"/>
<polygon points="727,407 730,407 730,408 731,408 731,412 730,412 730,413 727,413" fill="#000"/>
<rect x="713" y="421" width="7" height="8" fill="#000"/>
<rect x="714" y="422" width="5" height="6" fill="#fff"/>
<rect x="721" y="417" width="3" height="7" fill="#000"/>
<polygon points="727,417 730,417 730,418 731,418 731,422 730,422 730,423 727,423" fill="#000"/>
<rect x="713" y="430" width="7" height="8" fill="#000"/>
<rect x="714" y="431" width="5" height="6" fill="#fff"/>
<rect x="721" y="426" width="3" height="7" fill="#000"/>
<polygon points="727,426 730,426 730,427 731,427 731,431 730,431 730,432 727,432" fill="#000"/>
<rect x="713" y="440" width="7" height="8" fill="#000"/>
<rect x="714" y="441" width="5" height="6" fill="#fff"/>
<rect x="721" y="436" width="3" height="7" fill="#000"/>
<polygon points="727,436 730,436 730,437 731,437 731,441 730,441 730,442 727,442" fill="#000"/>
<rect x="713" y="449" width="7" height="8" fill="#000"/>
<rect x="714" y="450" width="5" height="6" fill="#fff"/>
<rect x="721" y="445" width="3" height="7" fill="#000"/>
<polygon points="727,445 730,445 730,446 731,446 731,450 730,450 730,451 727,451" fill="#000"/>
<rect x="713" y="458" width="7" height="8" fill="#000"/>
<rect x="714" y="459" width="5" height="6" fill="#fff"/>
<rect x="721" y="454" width="3" height="7" fill="#000"/>
<polygon points="727,454 730,454 730,455 731,455 731,459 730,459 730,460 727,460" fill="#000"/>
<rect x="713" y="468" width="7" height="8" fill="#000"/>
<rect x="714" y="469" width="5" height="6" fill="#fff"/>
<rect x="721" y="464" width="3" height="7" fill="#000"/>
<polygon points="727,464 730,464 730,465 731,465 731,469 730,469 730,470 727,470" fill="#000"/>
<rect x="713" y="477" width="7" height="8" fill="#000"/>
<rect x="714" y="478" width="5" height="6" fill="#fff"/>
<rect x="721" y="473" width="3" height="7" fill="#000"/>
<polygon points="727,473 730,473 730,474 731,474 731,478 730,478 730,479 727,479" fill="#000"/>
<rect x="713" y="487" width="7" height="8" fill="#000"/>
<rect x="714" y="488" width="5" height="6" fill="#fff"/>
<rect x="721" y="483" width="3" height="7" fill="#000"/>
<polygon points="727,483 730,483 730,484 731,484 731,488 730,488 730,489 727,489" fill="#000"/>
<rect x="713" y="496" width="7" height="8" fill="#000"/>
<rect x="714" y="497" width="5" height="6" fill="#fff"/>
<rect x="721" y="492" width="3" height="7" fill="#000"/>
<polygon points="727,492 730,492 730,493 731,493 731,497 730,497 730,498 727,498" fill="#000"/>
<rect x="726" y="398" width="1" height="110" fill="#000"/>
<rect x="721" y="500" width="3" height="8" fill="#000"/>
<rect x="713" y="507" width="3" height="1" fill="#000"/>
<rect x="717" y="507" width="3" height="1" fill="#000"/>
<rect x="716" y="506" width="1" height="1" fill="#000"/>
<rect x="777" y="438" width="4" height="50" fill="#000"/>
<rect x="774" y="440" width="3" height="46" fill="#000"/>
<rect x="750" y="444" width="24" height="38" fill="#000"/>
<rect x="747" y="451" width="3" height="24" fill="#000"/>
<rect x="743" y="453" width="5" height="9" fill="#000"/>
<rect x="744" y="454" width="3" height="7" fill="#fff"/>
<rect x="743" y="464" width="5" height="9" fill="#000"/>
<rect x="744" y="465" width="3" height="7" fill="#fff"/>
<rect x="748" y="461" width="2" height="4" fill="#fff"/>
<rect x="177" y="17" width="9" height="2" fill="#000"/>
<rect x="180" y="16" width="11" height="1" fill="#000"/>
<rect x="180" y="19" width="6" height="1" fill="#000"/>
<rect x="180" y="20" width="10" height="1" fill="#000"/>
<rect x="188" y="15" width="5" height="1" fill="#000"/>
<rect x="189" y="21" width="4" height="1" fill="#000"/>
<rect x="191" y="16" width="2" height="5" fill="#fff"/>
<rect x="185" y="18" width="9" height="1" fill="#fff"/>
<rect x="41" y="62" width="9" height="2" fill="#000"/>
<rect x="44" y="61" width="11" height="1" fill="#000"/>
<rect x="44" y="64" width="6" height="1" fill="#000"/>
<rect x="44" y="65" width="10" height="1" fill="#000"/>
<rect x="52" y="60" width="5" height="1" fill="#000"/>
<rect x="53" y="66" width="4" height="1" fill="#000"/>
<rect x="55" y="61" width="2" height="5" fill="#fff"/>
<rect x="49" y="63" width="9" height="1" fill="#fff"/>
<line x1="157.5" y1="62" x2="166.5" y2="52" stroke="#000" stroke-width="4"/>
<line x1="159.17" y1="60.14" x2="167.50" y2="50.89" stroke="#fff" stroke-width="1.2"/>
<rect x="254" y="46" width="11" height="2" fill="#000"/>
<rect x="259" y="45" width="11" height="1" fill="#000"/>
<rect x="259" y="48" width="6" height="1" fill="#000"/>
<rect x="259" y="49" width="10" height="1" fill="#000"/>
<rect x="267" y="44" width="5" height="1" fill="#000"/>
<rect x="268" y="50" width="4" height="1" fill="#000"/>
<rect x="270" y="45" width="2" height="5" fill="#fff"/>
<rect x="264" y="47" width="9" height="1" fill="#fff"/>
<rect x="231" y="89" width="8" height="2" fill="#000"/>
<rect x="226" y="88" width="11" height="1" fill="#000"/>
<rect x="231" y="91" width="6" height="1" fill="#000"/>
<rect x="227" y="92" width="10" height="1" fill="#000"/>
<rect x="224" y="87" width="5" height="1" fill="#000"/>
<rect x="224" y="93" width="4" height="1" fill="#000"/>
<rect x="224" y="88" width="2" height="5" fill="#fff"/>
<rect x="223" y="90" width="9" height="1" fill="#fff"/>
<rect x="258" y="89" width="9" height="2" fill="#000"/>
<rect x="261" y="88" width="11" height="1" fill="#000"/>
<rect x="261" y="91" width="6" height="1" fill="#000"/>
<rect x="261" y="92" width="10" height="1" fill="#000"/>
<rect x="269" y="87" width="5" height="1" fill="#000"/>
<rect x="270" y="93" width="4" height="1" fill="#000"/>
<rect x="272" y="88" width="2" height="5" fill="#fff"/>
<rect x="266" y="90" width="9" height="1" fill="#fff"/>
<rect x="248" y="97" width="2" height="3" fill="#000"/>
<rect x="247" y="99" width="4" height="7" fill="#000"/>
<rect x="246" y="105" width="6" height="9" fill="#000"/>
<rect x="248" y="110" width="2" height="6" fill="#fff"/>
<rect x="246" y="157" width="9" height="2" fill="#000"/>
<rect x="249" y="156" width="11" height="1" fill="#000"/>
<rect x="249" y="159" width="6" height="1" fill="#000"/>
<rect x="249" y="160" width="10" height="1" fill="#000"/>
<rect x="257" y="155" width="5" height="1" fill="#000"/>
<rect x="258" y="161" width="4" height="1" fill="#000"/>
<rect x="260" y="156" width="2" height="5" fill="#fff"/>
<rect x="254" y="158" width="9" height="1" fill="#fff"/>
<rect x="252" y="174" width="10" height="2" fill="#000"/>
<rect x="256" y="173" width="11" height="1" fill="#000"/>
<rect x="256" y="176" width="6" height="1" fill="#000"/>
<rect x="256" y="177" width="10" height="1" fill="#000"/>
<rect x="264" y="172" width="5" height="1" fill="#000"/>
<rect x="265" y="178" width="4" height="1" fill="#000"/>
<rect x="267" y="173" width="2" height="5" fill="#fff"/>
<rect x="261" y="175" width="9" height="1" fill="#fff"/>
<rect x="246" y="210" width="9" height="2" fill="#000"/>
<rect x="249" y="209" width="11" height="1" fill="#000"/>
<rect x="249" y="212" width="6" height="1" fill="#000"/>
<rect x="249" y="213" width="10" height="1" fill="#000"/>
<rect x="257" y="208" width="5" height="1" fill="#000"/>
<rect x="258" y="214" width="4" height="1" fill="#000"/>
<rect x="260" y="209" width="2" height="5" fill="#fff"/>
<rect x="254" y="211" width="9" height="1" fill="#fff"/>
<line x1="396" y1="63.5" x2="406" y2="55" stroke="#000" stroke-width="4"/>
<line x1="397.90" y1="61.88" x2="407.14" y2="54.03" stroke="#fff" stroke-width="1.2"/>
<rect x="371" y="90" width="9" height="2" fill="#000"/>
<rect x="374" y="89" width="11" height="1" fill="#000"/>
<rect x="374" y="92" width="6" height="1" fill="#000"/>
<rect x="374" y="93" width="10" height="1" fill="#000"/>
<rect x="382" y="88" width="5" height="1" fill="#000"/>
<rect x="383" y="94" width="4" height="1" fill="#000"/>
<rect x="385" y="89" width="2" height="5" fill="#fff"/>
<rect x="379" y="91" width="9" height="1" fill="#fff"/>
<line x1="341.5" y1="95" x2="352" y2="104" stroke="#000" stroke-width="4"/>
<line x1="343.40" y1="96.63" x2="353.14" y2="104.98" stroke="#fff" stroke-width="1.2"/>
<line x1="231.5" y1="310" x2="241" y2="302.5" stroke="#000" stroke-width="4"/>
<line x1="233.46" y1="308.45" x2="242.18" y2="301.57" stroke="#fff" stroke-width="1.2"/>
<rect x="232" y="316" width="9" height="2" fill="#000"/>
<rect x="235" y="315" width="11" height="1" fill="#000"/>
<rect x="235" y="318" width="6" height="1" fill="#000"/>
<rect x="235" y="319" width="10" height="1" fill="#000"/>
<rect x="243" y="314" width="5" height="1" fill="#000"/>
<rect x="244" y="320" width="4" height="1" fill="#000"/>
<rect x="246" y="315" width="2" height="5" fill="#fff"/>
<rect x="240" y="317" width="9" height="1" fill="#fff"/>
<line x1="621" y1="196" x2="630" y2="204" stroke="#000" stroke-width="4"/>
<line x1="622.87" y1="197.66" x2="631.12" y2="205.00" stroke="#fff" stroke-width="1.2"/>
<rect x="497" y="197" width="9" height="2" fill="#000"/>
<rect x="492" y="196" width="11" height="1" fill="#000"/>
<rect x="497" y="199" width="6" height="1" fill="#000"/>
<rect x="493" y="200" width="10" height="1" fill="#000"/>
<rect x="490" y="195" width="5" height="1" fill="#000"/>
<rect x="490" y="201" width="4" height="1" fill="#000"/>
<rect x="490" y="196" width="2" height="5" fill="#fff"/>
<rect x="489" y="198" width="9" height="1" fill="#fff"/>
<rect x="505" y="177" width="8" height="2" fill="#000"/>
<rect x="500" y="176" width="11" height="1" fill="#000"/>
<rect x="505" y="179" width="6" height="1" fill="#000"/>
<rect x="501" y="180" width="10" height="1" fill="#000"/>
<rect x="498" y="175" width="5" height="1" fill="#000"/>
<rect x="498" y="181" width="4" height="1" fill="#000"/>
<rect x="498" y="176" width="2" height="5" fill="#fff"/>
<rect x="497" y="178" width="9" height="1" fill="#fff"/>
<line x1="599" y1="177" x2="589" y2="171" stroke="#000" stroke-width="4"/>
<line x1="596.86" y1="175.71" x2="587.71" y2="170.23" stroke="#fff" stroke-width="1.2"/>
<rect x="618" y="152" width="6" height="5" fill="#000"/>
<rect x="618" y="157" width="5" height="5" fill="#000"/>
<rect x="619" y="162" width="3" height="9" fill="#000"/>
<rect x="620" y="151" width="2" height="4" fill="#fff"/>
<rect x="621" y="155" width="1" height="3" fill="#fff"/>
<line x1="678.5" y1="185" x2="686.5" y2="193.5" stroke="#000" stroke-width="4"/>
<line x1="680.21" y1="186.82" x2="687.53" y2="194.59" stroke="#fff" stroke-width="1.2"/>
<line x1="710" y1="173" x2="722" y2="165" stroke="#000" stroke-width="4"/>
<line x1="712.08" y1="171.61" x2="723.25" y2="164.17" stroke="#fff" stroke-width="1.2"/>
<rect x="711" y="179" width="10" height="2" fill="#000"/>
<rect x="715" y="178" width="11" height="1" fill="#000"/>
<rect x="715" y="181" width="6" height="1" fill="#000"/>
<rect x="715" y="182" width="10" height="1" fill="#000"/>
<rect x="723" y="177" width="5" height="1" fill="#000"/>
<rect x="724" y="183" width="4" height="1" fill="#000"/>
<rect x="726" y="178" width="2" height="5" fill="#fff"/>
<rect x="720" y="180" width="9" height="1" fill="#fff"/>
<rect x="403" y="377" width="9" height="2" fill="#000"/>
<rect x="398" y="376" width="11" height="1" fill="#000"/>
<rect x="403" y="379" width="6" height="1" fill="#000"/>
<rect x="399" y="380" width="10" height="1" fill="#000"/>
<rect x="396" y="375" width="5" height="1" fill="#000"/>
<rect x="396" y="381" width="4" height="1" fill="#000"/>
<rect x="396" y="376" width="2" height="5" fill="#fff"/>
<rect x="395" y="378" width="9" height="1" fill="#fff"/>
<rect x="394" y="421" width="9" height="2" fill="#000"/>
<rect x="389" y="420" width="11" height="1" fill="#000"/>
<rect x="394" y="423" width="6" height="1" fill="#000"/>
<rect x="390" y="424" width="10" height="1" fill="#000"/>
<rect x="387" y="419" width="5" height="1" fill="#000"/>
<rect x="387" y="425" width="4" height="1" fill="#000"/>
<rect x="387" y="420" width="2" height="5" fill="#fff"/>
<rect x="386" y="422" width="9" height="1" fill="#fff"/>
<rect x="492" y="376" width="6" height="5" fill="#000"/>
<rect x="492" y="381" width="5" height="5" fill="#000"/>
<rect x="493" y="386" width="3" height="8" fill="#000"/>
<rect x="494" y="375" width="2" height="4" fill="#fff"/>
<rect x="495" y="379" width="1" height="3" fill="#fff"/>
<rect x="580" y="376" width="6" height="5" fill="#000"/>
<rect x="580" y="381" width="5" height="5" fill="#000"/>
<rect x="581" y="386" width="3" height="8" fill="#000"/>
<rect x="582" y="375" width="2" height="4" fill="#fff"/>
<rect x="583" y="379" width="1" height="3" fill="#fff"/>
<rect x="631" y="376" width="6" height="5" fill="#000"/>
<rect x="631" y="381" width="5" height="5" fill="#000"/>
<rect x="632" y="386" width="3" height="8" fill="#000"/>
<rect x="633" y="375" width="2" height="4" fill="#fff"/>
<rect x="634" y="379" width="1" height="3" fill="#fff"/>
<rect x="668" y="376" width="6" height="5" fill="#000"/>
<rect x="668" y="381" width="5" height="5" fill="#000"/>
<rect x="669" y="386" width="3" height="8" fill="#000"/>
<rect x="670" y="375" width="2" height="4" fill="#fff"/>
<rect x="671" y="379" width="1" height="3" fill="#fff"/>
</svg>
</body></html>
